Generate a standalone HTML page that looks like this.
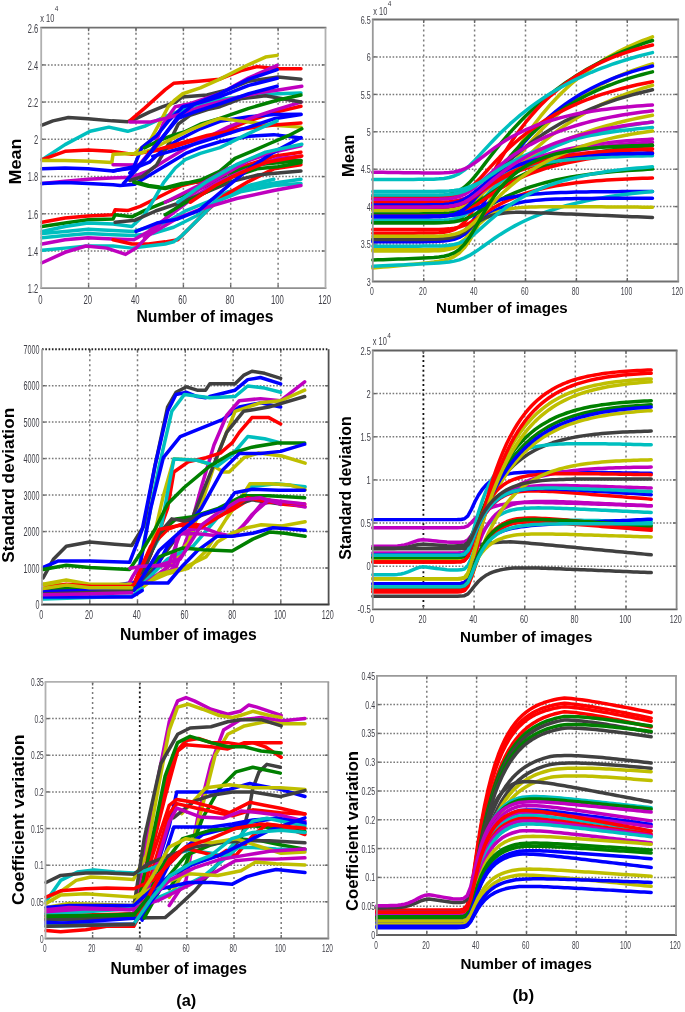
<!DOCTYPE html>
<html><head><meta charset="utf-8"><style>
html,body{margin:0;padding:0;background:#fff;width:685px;height:1012px;overflow:hidden}
text{font-family:"Liberation Sans",sans-serif}
</style></head><body>
<svg width="685" height="1012" viewBox="0 0 685 1012" style="display:block;filter:blur(0.35px)">
<rect width="685" height="1012" fill="#fff"/>
<g stroke="#7a7a7a" stroke-width="1.5" stroke-dasharray="2 3"><line x1="88.6" y1="27.7" x2="88.6" y2="288.2"/><line x1="136.0" y1="27.7" x2="136.0" y2="288.2"/><line x1="183.4" y1="27.7" x2="183.4" y2="288.2"/><line x1="230.7" y1="27.7" x2="230.7" y2="288.2"/><line x1="278.1" y1="27.7" x2="278.1" y2="288.2"/></g>
<g stroke="#7a7a7a" stroke-width="1.5" stroke-dasharray="1.6 1.7"><line x1="41.2" y1="251.0" x2="325.5" y2="251.0"/><line x1="41.2" y1="213.8" x2="325.5" y2="213.8"/><line x1="41.2" y1="176.6" x2="325.5" y2="176.6"/><line x1="41.2" y1="139.3" x2="325.5" y2="139.3"/><line x1="41.2" y1="102.1" x2="325.5" y2="102.1"/><line x1="41.2" y1="64.9" x2="325.5" y2="64.9"/></g>
<g stroke="#666" stroke-width="1.4"><line x1="88.6" y1="284.7" x2="88.6" y2="288.2"/><line x1="88.6" y1="27.7" x2="88.6" y2="31.2"/><line x1="136.0" y1="284.7" x2="136.0" y2="288.2"/><line x1="136.0" y1="27.7" x2="136.0" y2="31.2"/><line x1="183.4" y1="284.7" x2="183.4" y2="288.2"/><line x1="183.4" y1="27.7" x2="183.4" y2="31.2"/><line x1="230.7" y1="284.7" x2="230.7" y2="288.2"/><line x1="230.7" y1="27.7" x2="230.7" y2="31.2"/><line x1="278.1" y1="284.7" x2="278.1" y2="288.2"/><line x1="278.1" y1="27.7" x2="278.1" y2="31.2"/><line x1="41.2" y1="251.0" x2="44.7" y2="251.0"/><line x1="322.0" y1="251.0" x2="325.5" y2="251.0"/><line x1="41.2" y1="213.8" x2="44.7" y2="213.8"/><line x1="322.0" y1="213.8" x2="325.5" y2="213.8"/><line x1="41.2" y1="176.6" x2="44.7" y2="176.6"/><line x1="322.0" y1="176.6" x2="325.5" y2="176.6"/><line x1="41.2" y1="139.3" x2="44.7" y2="139.3"/><line x1="322.0" y1="139.3" x2="325.5" y2="139.3"/><line x1="41.2" y1="102.1" x2="44.7" y2="102.1"/><line x1="322.0" y1="102.1" x2="325.5" y2="102.1"/><line x1="41.2" y1="64.9" x2="44.7" y2="64.9"/><line x1="322.0" y1="64.9" x2="325.5" y2="64.9"/></g>
<g transform="translate(40,27) scale(0.41752,0.41720)" fill="none" stroke-width="8.38" stroke-linejoin="round" stroke-linecap="round">
<polyline stroke="#404040" points="5,235 31,225 68,217 115,220 173,225 210,227 225,222 262,204 294,191 325,180 340,168 400,163 450,150 500,130 570,120 625,125"/>
<polyline stroke="#00bfbf" points="5,318 60,282 120,250 165,240 210,250 250,238 300,215 350,195 420,175 500,165 570,160 625,158"/>
<polyline stroke="#ff0000" points="5,318 60,298 115,295 170,298 220,305 279,296 314,289 349,278 384,268 431,254 500,225 560,205 625,190"/>
<polyline stroke="#ff0000" points="215,225 250,195 300,150 320,135 380,130 430,125 480,105 520,95 570,100 625,100"/>
<polyline stroke="#bfbf00" points="5,320 60,320 120,322 172,325 175,305 227,303 262,275 283,237 307,191 324,174 342,160 384,146 431,125 470,105 500,90 540,72 568,68"/>
<polyline stroke="#bf00bf" points="175,330 237,331 272,289 296,230 324,191 359,184 431,160 500,122 568,92"/>
<polyline stroke="#0000ff" points="5,340 60,338 115,340 175,345 192,342 227,338 262,324 296,293 331,271 384,244 431,226 500,215 560,210 625,209"/>
<polyline stroke="#bf00bf" points="5,375 60,370 115,365 170,362 220,360 260,345 300,320 350,290 400,265 450,240 500,220 560,200 625,180"/>
<polyline stroke="#0000ff" points="5,375 60,373 115,375 175,378 192,380 227,377 244,366 279,345 314,324 349,303 384,289 431,275 500,262 560,258 625,266"/>
<polyline stroke="#008000" points="225,370 260,380 300,385 340,375 400,370 450,360 500,330 560,320 625,320"/>
<polyline stroke="#404040" points="215,368 244,359 279,331 307,282 331,233 359,212 401,198 431,191 480,172 540,165 625,180"/>
<polyline stroke="#0000ff" points="175,345 225,335 244,289 279,261 307,226 342,191 384,181 431,167 500,140 568,123"/>
<polyline stroke="#008000" points="250,290 279,275 314,261 349,250 384,233 431,219 500,195 570,175 625,163"/>
<polyline stroke="#bfbf00" points="230,305 262,296 296,278 331,261 366,244 401,230 431,219 500,228 570,236 625,240"/>
<polyline stroke="#ff0000" points="260,300 330,280 400,260 480,245 560,235 625,230"/>
<polyline stroke="#0000ff" points="270,310 340,290 420,265 500,240 560,220 625,210"/>
<polyline stroke="#ff0000" points="5,468 60,458 115,453 175,450 180,438 210,440 240,430 280,410 340,380 400,365 450,350 500,330 560,310 625,300"/>
<polyline stroke="#008000" points="5,478 60,470 115,462 175,460 180,450 220,455 250,440 300,420 350,400 400,380 450,350 520,330 625,320"/>
<polyline stroke="#00bfbf" points="5,490 60,478 115,470 175,472 220,478 250,450 272,415 296,373 324,338 349,317 384,303 431,289 500,255 568,225"/>
<polyline stroke="#00bfbf" points="5,495 60,490 115,485 175,488 225,490 260,480 300,470 350,440 400,420 450,395 520,380 625,365"/>
<polyline stroke="#00bfbf" points="5,505 60,500 115,495 175,498 225,500 270,495 320,480 380,450 430,410 500,380 560,365"/>
<polyline stroke="#bf00bf" points="5,520 60,510 115,505 175,508 225,510 260,490 300,460 340,430 380,400 430,370 500,340 570,315 625,310"/>
<polyline stroke="#ff0000" points="175,510 220,520 260,520 300,515 330,510 360,480 400,440 440,405 500,370 560,340 625,330"/>
<polyline stroke="#00bfbf" points="5,535 60,530 115,525 175,525 220,530 260,525 300,520 320,515 340,500 380,460 420,420 480,395 560,380 625,375"/>
<polyline stroke="#bf00bf" points="5,565 60,540 110,525 160,530 205,545 230,530 260,500 300,460 340,420 380,390 430,360 500,320 560,300 625,285"/>
<polyline stroke="#404040" points="180,468 228,463 277,441 339,420 400,395 460,370 520,355 570,350 625,345"/>
<polyline stroke="#bf00bf" points="250,505 330,458 383,437 471,411 560,392 625,380"/>
<polyline stroke="#008000" points="300,450 350,420 400,395 460,360 520,340 570,335 625,325"/>
<polyline stroke="#0000ff" points="230,490 280,470 330,460 380,440 440,390 500,340 560,300 625,265"/>
<polyline stroke="#008000" points="225,372 260,382 300,387 340,377 387,366 430,346 467,315 510,297 553,278 596,260 627,244"/>
<polyline stroke="#bf00bf" points="215,228 263,228 300,219 337,209 386,191 435,178 485,166 528,157 571,151 627,142"/>
<polyline stroke="#0000ff" points="200,375 234,338 262,303 296,261 331,219 366,205 431,184 500,160 568,142"/>
<polyline stroke="#0000ff" points="215,350 250,320 290,270 330,215 370,185 430,160 500,125 568,102"/>
<polyline stroke="#bf00bf" points="300,420 380,380 450,340 520,310 571,294"/>
<polyline stroke="#ff0000" points="360,420 420,380 480,350 540,325 627,309"/>
<polyline stroke="#00bfbf" points="330,420 400,370 470,330 540,300 627,281"/>
</g>
<line x1="40.3" y1="27.7" x2="326.4" y2="27.7" stroke="#707070" stroke-width="1.8"/>
<line x1="40.3" y1="288.2" x2="326.4" y2="288.2" stroke="#909090" stroke-width="1.8"/>
<line x1="41.2" y1="27.7" x2="41.2" y2="288.2" stroke="#b0b0b0" stroke-width="1.8"/>
<line x1="325.5" y1="27.7" x2="325.5" y2="288.2" stroke="#b0b0b0" stroke-width="1.8"/>
<g font-family="Liberation Sans" fill="#404048"><text x="27.8" y="293.1" font-size="13.5" textLength="10.4" lengthAdjust="spacingAndGlyphs">1.2</text><text x="27.8" y="255.8" font-size="13.5" textLength="10.4" lengthAdjust="spacingAndGlyphs">1.4</text><text x="27.8" y="218.6" font-size="13.5" textLength="10.4" lengthAdjust="spacingAndGlyphs">1.6</text><text x="27.8" y="181.4" font-size="13.5" textLength="10.4" lengthAdjust="spacingAndGlyphs">1.8</text><text x="34.0" y="144.2" font-size="13.5" textLength="4.2" lengthAdjust="spacingAndGlyphs">2</text><text x="27.8" y="107.0" font-size="13.5" textLength="10.4" lengthAdjust="spacingAndGlyphs">2.2</text><text x="27.8" y="69.8" font-size="13.5" textLength="10.4" lengthAdjust="spacingAndGlyphs">2.4</text><text x="27.8" y="32.6" font-size="13.5" textLength="10.4" lengthAdjust="spacingAndGlyphs">2.6</text><text x="38.3" y="303.7" font-size="13.5" textLength="4.3" lengthAdjust="spacingAndGlyphs">0</text><text x="83.5" y="303.7" font-size="13.5" textLength="8.6" lengthAdjust="spacingAndGlyphs">20</text><text x="130.9" y="303.7" font-size="13.5" textLength="8.6" lengthAdjust="spacingAndGlyphs">40</text><text x="178.2" y="303.7" font-size="13.5" textLength="8.6" lengthAdjust="spacingAndGlyphs">60</text><text x="225.6" y="303.7" font-size="13.5" textLength="8.6" lengthAdjust="spacingAndGlyphs">80</text><text x="270.9" y="303.7" font-size="13.5" textLength="12.9" lengthAdjust="spacingAndGlyphs">100</text><text x="318.2" y="303.7" font-size="13.5" textLength="12.9" lengthAdjust="spacingAndGlyphs">120</text></g>
<text x="40.3" y="21.9" font-family="Liberation Sans" font-size="11" fill="#404048" textLength="14" lengthAdjust="spacingAndGlyphs">x 10</text>
<text x="54.8" y="11.4" font-family="Liberation Sans" font-size="6.5" fill="#404048">4</text>
<g stroke="#7a7a7a" stroke-width="1.5" stroke-dasharray="2 3"><line x1="423.7" y1="19.5" x2="423.7" y2="281.5"/><line x1="474.6" y1="19.5" x2="474.6" y2="281.5"/><line x1="525.5" y1="19.5" x2="525.5" y2="281.5"/><line x1="576.4" y1="19.5" x2="576.4" y2="281.5"/><line x1="627.3" y1="19.5" x2="627.3" y2="281.5"/></g>
<g stroke="#7a7a7a" stroke-width="1.5" stroke-dasharray="1.6 1.7"><line x1="372.8" y1="244.1" x2="678.2" y2="244.1"/><line x1="372.8" y1="206.6" x2="678.2" y2="206.6"/><line x1="372.8" y1="169.2" x2="678.2" y2="169.2"/><line x1="372.8" y1="131.8" x2="678.2" y2="131.8"/><line x1="372.8" y1="94.4" x2="678.2" y2="94.4"/><line x1="372.8" y1="56.9" x2="678.2" y2="56.9"/></g>
<g stroke="#666" stroke-width="1.4"><line x1="423.7" y1="278.0" x2="423.7" y2="281.5"/><line x1="423.7" y1="19.5" x2="423.7" y2="23.0"/><line x1="474.6" y1="278.0" x2="474.6" y2="281.5"/><line x1="474.6" y1="19.5" x2="474.6" y2="23.0"/><line x1="525.5" y1="278.0" x2="525.5" y2="281.5"/><line x1="525.5" y1="19.5" x2="525.5" y2="23.0"/><line x1="576.4" y1="278.0" x2="576.4" y2="281.5"/><line x1="576.4" y1="19.5" x2="576.4" y2="23.0"/><line x1="627.3" y1="278.0" x2="627.3" y2="281.5"/><line x1="627.3" y1="19.5" x2="627.3" y2="23.0"/><line x1="372.8" y1="244.1" x2="376.3" y2="244.1"/><line x1="674.7" y1="244.1" x2="678.2" y2="244.1"/><line x1="372.8" y1="206.6" x2="376.3" y2="206.6"/><line x1="674.7" y1="206.6" x2="678.2" y2="206.6"/><line x1="372.8" y1="169.2" x2="376.3" y2="169.2"/><line x1="674.7" y1="169.2" x2="678.2" y2="169.2"/><line x1="372.8" y1="131.8" x2="376.3" y2="131.8"/><line x1="674.7" y1="131.8" x2="678.2" y2="131.8"/><line x1="372.8" y1="94.4" x2="376.3" y2="94.4"/><line x1="674.7" y1="94.4" x2="678.2" y2="94.4"/><line x1="372.8" y1="56.9" x2="376.3" y2="56.9"/><line x1="674.7" y1="56.9" x2="678.2" y2="56.9"/></g>
<g transform="translate(372,19) scale(0.44818,0.44804)" fill="none" stroke-width="7.81" stroke-linejoin="round" stroke-linecap="round">
<polyline stroke="#bfbf00" points="1.8,556.0 13.1,554.9 24.5,553.8 35.8,552.8 47.2,551.7 58.5,550.6 69.9,549.5 81.2,548.4 92.6,547.3 103.9,546.2 115.3,545.0 126.6,543.8 138.0,542.4 149.3,540.7 160.6,538.5 172.0,535.3 183.3,530.4 194.7,522.6 206.0,510.9 217.4,495.1 228.7,475.7 240.1,453.4 251.4,429.7 262.8,405.8 274.1,382.4 285.4,359.9 296.8,338.4 308.1,318.0 319.5,298.7 330.8,280.4 342.2,263.2 353.5,246.9 364.9,231.5 376.2,217.0 387.6,203.2 398.9,190.2 410.3,178.0 421.6,166.4 432.9,155.5 444.3,145.2 455.6,135.4 467.0,126.2 478.3,117.5 489.7,109.3 501.0,101.6 512.4,94.2 523.7,87.3 535.1,80.8 546.4,74.6 557.8,68.8 569.1,63.3 580.4,58.1 591.8,53.2 603.1,48.5 614.5,44.1 625.8,40.0"/>
<polyline stroke="#008000" points="1.8,395.0 13.1,395.0 24.5,395.0 35.8,395.0 47.2,395.0 58.5,395.0 69.9,395.0 81.2,395.0 92.6,395.0 103.9,394.9 115.3,394.9 126.6,394.7 138.0,394.5 149.3,394.0 160.6,393.1 172.0,391.4 183.3,388.3 194.7,383.3 206.0,375.6 217.4,365.1 228.7,352.3 240.1,338.1 251.4,323.3 262.8,308.5 274.1,293.9 285.4,279.8 296.8,266.2 308.1,253.2 319.5,240.7 330.8,228.7 342.2,217.2 353.5,206.3 364.9,195.8 376.2,185.7 387.6,176.1 398.9,167.0 410.3,158.2 421.6,149.8 432.9,141.7 444.3,134.1 455.6,126.7 467.0,119.7 478.3,113.0 489.7,106.5 501.0,100.4 512.4,94.5 523.7,88.8 535.1,83.5 546.4,78.3 557.8,73.4 569.1,68.7 580.4,64.2 591.8,59.8 603.1,55.7 614.5,51.8 625.8,48.0"/>
<polyline stroke="#ff0000" points="1.8,478.0 13.1,478.0 24.5,478.0 35.8,478.0 47.2,478.0 58.5,478.0 69.9,478.0 81.2,478.0 92.6,478.0 103.9,477.9 115.3,477.8 126.6,477.7 138.0,477.4 149.3,476.8 160.6,475.8 172.0,473.8 183.3,470.1 194.7,463.8 206.0,453.8 217.4,439.5 228.7,421.3 240.1,400.6 251.4,378.8 262.8,357.0 274.1,335.9 285.4,315.7 296.8,296.7 308.1,278.7 319.5,261.9 330.8,246.2 342.2,231.5 353.5,217.7 364.9,204.8 376.2,192.7 387.6,181.4 398.9,170.9 410.3,161.0 421.6,151.7 432.9,143.1 444.3,135.0 455.6,127.4 467.0,120.3 478.3,113.7 489.7,107.5 501.0,101.7 512.4,96.3 523.7,91.2 535.1,86.5 546.4,82.0 557.8,77.9 569.1,74.0 580.4,70.3 591.8,66.9 603.1,63.8 614.5,60.8 625.8,58.0"/>
<polyline stroke="#00bfbf" points="1.8,358.0 13.1,358.0 24.5,358.0 35.8,358.0 47.2,358.0 58.5,358.0 69.9,358.0 81.2,358.0 92.6,358.0 103.9,357.9 115.3,357.8 126.6,357.7 138.0,357.4 149.3,356.8 160.6,355.8 172.0,353.8 183.3,350.5 194.7,345.1 206.0,337.4 217.4,327.6 228.7,316.1 240.1,303.9 251.4,291.5 262.8,279.2 274.1,267.3 285.4,255.8 296.8,244.8 308.1,234.2 319.5,224.2 330.8,214.6 342.2,205.5 353.5,196.8 364.9,188.4 376.2,180.5 387.6,173.0 398.9,165.8 410.3,158.9 421.6,152.3 432.9,146.1 444.3,140.1 455.6,134.4 467.0,129.0 478.3,123.9 489.7,118.9 501.0,114.3 512.4,109.8 523.7,105.5 535.1,101.4 546.4,97.6 557.8,93.9 569.1,90.3 580.4,87.0 591.8,83.8 603.1,80.7 614.5,77.8 625.8,75.0"/>
<polyline stroke="#bfbf00" points="1.8,518.0 13.1,518.0 24.5,518.0 35.8,518.0 47.2,518.0 58.5,518.0 69.9,518.0 81.2,518.0 92.6,518.0 103.9,517.9 115.3,517.9 126.6,517.7 138.0,517.5 149.3,517.0 160.6,516.0 172.0,514.2 183.3,511.0 194.7,505.4 206.0,496.4 217.4,483.6 228.7,467.2 240.1,448.4 251.4,428.4 262.8,408.2 274.1,388.5 285.4,369.6 296.8,351.5 308.1,334.3 319.5,318.0 330.8,302.6 342.2,288.1 353.5,274.4 364.9,261.4 376.2,249.1 387.6,237.6 398.9,226.6 410.3,216.3 421.6,206.5 432.9,197.3 444.3,188.6 455.6,180.4 467.0,172.7 478.3,165.3 489.7,158.4 501.0,151.9 512.4,145.7 523.7,139.9 535.1,134.4 546.4,129.2 557.8,124.2 569.1,119.6 580.4,115.2 591.8,111.1 603.1,107.2 614.5,103.5 625.8,100.0"/>
<polyline stroke="#0000ff" points="1.8,495.0 13.1,495.0 24.5,495.0 35.8,495.0 47.2,495.0 58.5,495.0 69.9,495.0 81.2,495.0 92.6,495.0 103.9,494.9 115.3,494.9 126.6,494.7 138.0,494.5 149.3,494.0 160.6,493.0 172.0,491.2 183.3,488.0 194.7,482.4 206.0,473.5 217.4,460.8 228.7,444.7 240.1,426.2 251.4,406.6 262.8,387.0 274.1,367.9 285.4,349.6 296.8,332.3 308.1,315.9 319.5,300.5 330.8,286.0 342.2,272.3 353.5,259.5 364.9,247.4 376.2,236.1 387.6,225.5 398.9,215.5 410.3,206.1 421.6,197.3 432.9,189.0 444.3,181.2 455.6,173.9 467.0,167.1 478.3,160.6 489.7,154.6 501.0,148.9 512.4,143.5 523.7,138.5 535.1,133.8 546.4,129.4 557.8,125.2 569.1,121.3 580.4,117.6 591.8,114.2 603.1,110.9 614.5,107.9 625.8,105.0"/>
<polyline stroke="#008000" points="1.8,455.0 13.1,455.0 24.5,455.0 35.8,455.0 47.2,455.0 58.5,455.0 69.9,455.0 81.2,455.0 92.6,455.0 103.9,454.9 115.3,454.9 126.6,454.8 138.0,454.6 149.3,454.2 160.6,453.4 172.0,452.0 183.3,449.3 194.7,444.8 206.0,437.6 217.4,427.2 228.7,414.0 240.1,398.9 251.4,382.8 262.8,366.5 274.1,350.6 285.4,335.3 296.8,320.7 308.1,306.9 319.5,293.8 330.8,281.4 342.2,269.6 353.5,258.6 364.9,248.1 376.2,238.2 387.6,228.9 398.9,220.1 410.3,211.8 421.6,203.9 432.9,196.5 444.3,189.5 455.6,182.8 467.0,176.6 478.3,170.7 489.7,165.1 501.0,159.8 512.4,154.8 523.7,150.1 535.1,145.7 546.4,141.5 557.8,137.5 569.1,133.8 580.4,130.3 591.8,126.9 603.1,123.8 614.5,120.8 625.8,118.0"/>
<polyline stroke="#ff0000" points="1.8,400.0 13.1,400.0 24.5,400.0 35.8,400.0 47.2,400.0 58.5,400.0 69.9,400.0 81.2,400.0 92.6,400.0 103.9,400.0 115.3,399.9 126.6,399.8 138.0,399.7 149.3,399.4 160.6,398.8 172.0,397.7 183.3,395.6 194.7,392.1 206.0,386.6 217.4,378.6 228.7,368.4 240.1,356.7 251.4,344.3 262.8,331.7 274.1,319.5 285.4,307.7 296.8,296.4 308.1,285.7 319.5,275.6 330.8,266.0 342.2,257.0 353.5,248.5 364.9,240.4 376.2,232.8 387.6,225.6 398.9,218.8 410.3,212.3 421.6,206.3 432.9,200.5 444.3,195.1 455.6,190.0 467.0,185.2 478.3,180.6 489.7,176.3 501.0,172.3 512.4,168.4 523.7,164.8 535.1,161.4 546.4,158.1 557.8,155.1 569.1,152.2 580.4,149.5 591.8,146.9 603.1,144.5 614.5,142.2 625.8,140.0"/>
<polyline stroke="#bfbf00" points="1.8,490.0 13.1,490.0 24.5,490.0 35.8,490.0 47.2,490.0 58.5,490.0 69.9,490.0 81.2,490.0 92.6,490.0 103.9,489.9 115.3,489.9 126.6,489.8 138.0,489.6 149.3,489.2 160.6,488.5 172.0,487.2 183.3,484.7 194.7,480.5 206.0,473.8 217.4,464.1 228.7,451.8 240.1,437.5 251.4,422.2 262.8,406.7 274.1,391.4 285.4,376.6 296.8,362.4 308.1,348.8 319.5,335.8 330.8,323.4 342.2,311.7 353.5,300.5 364.9,289.9 376.2,279.7 387.6,270.1 398.9,260.9 410.3,252.2 421.6,243.9 432.9,236.1 444.3,228.6 455.6,221.4 467.0,214.6 478.3,208.2 489.7,202.0 501.0,196.2 512.4,190.6 523.7,185.4 535.1,180.3 546.4,175.5 557.8,171.0 569.1,166.7 580.4,162.6 591.8,158.6 603.1,154.9 614.5,151.4 625.8,148.0"/>
<polyline stroke="#404040" points="1.8,425.0 13.1,425.0 24.5,425.0 35.8,425.0 47.2,425.0 58.5,425.0 69.9,425.0 81.2,425.0 92.6,425.0 103.9,425.0 115.3,424.9 126.6,424.8 138.0,424.7 149.3,424.4 160.6,423.8 172.0,422.8 183.3,420.9 194.7,417.6 206.0,412.4 217.4,404.8 228.7,395.1 240.1,384.0 251.4,372.0 262.8,359.9 274.1,348.0 285.4,336.5 296.8,325.3 308.1,314.7 319.5,304.6 330.8,295.0 342.2,285.8 353.5,277.1 364.9,268.8 376.2,260.9 387.6,253.3 398.9,246.2 410.3,239.4 421.6,232.9 432.9,226.7 444.3,220.9 455.6,215.3 467.0,210.0 478.3,205.0 489.7,200.2 501.0,195.6 512.4,191.3 523.7,187.2 535.1,183.2 546.4,179.5 557.8,176.0 569.1,172.6 580.4,169.4 591.8,166.3 603.1,163.4 614.5,160.6 625.8,158.0"/>
<polyline stroke="#bf00bf" points="1.8,342.0 13.1,342.2 24.5,342.3 35.8,342.5 47.2,342.6 58.5,342.8 69.9,343.0 81.2,343.1 92.6,343.3 103.9,343.4 115.3,343.6 126.6,343.7 138.0,343.7 149.3,343.6 160.6,343.3 172.0,342.6 183.3,341.3 194.7,338.8 206.0,334.8 217.4,328.9 228.7,321.4 240.1,313.0 251.4,304.2 262.8,295.5 274.1,287.1 285.4,279.3 296.8,272.0 308.1,265.2 319.5,258.9 330.8,253.1 342.2,247.7 353.5,242.8 364.9,238.2 376.2,234.0 387.6,230.1 398.9,226.5 410.3,223.2 421.6,220.1 432.9,217.3 444.3,214.6 455.6,212.2 467.0,210.0 478.3,208.0 489.7,206.1 501.0,204.3 512.4,202.7 523.7,201.2 535.1,199.8 546.4,198.5 557.8,197.4 569.1,196.3 580.4,195.3 591.8,194.4 603.1,193.5 614.5,192.7 625.8,192.0"/>
<polyline stroke="#bf00bf" points="1.8,403.0 13.1,403.0 24.5,403.0 35.8,403.0 47.2,403.0 58.5,403.0 69.9,403.0 81.2,403.0 92.6,403.0 103.9,403.0 115.3,402.9 126.6,402.9 138.0,402.7 149.3,402.5 160.6,401.9 172.0,401.0 183.3,399.3 194.7,396.3 206.0,391.6 217.4,384.8 228.7,376.3 240.1,366.5 251.4,356.2 262.8,346.0 274.1,336.0 285.4,326.5 296.8,317.5 308.1,309.1 319.5,301.1 330.8,293.7 342.2,286.8 353.5,280.3 364.9,274.2 376.2,268.5 387.6,263.2 398.9,258.2 410.3,253.5 421.6,249.2 432.9,245.1 444.3,241.3 455.6,237.7 467.0,234.4 478.3,231.3 489.7,228.3 501.0,225.6 512.4,223.0 523.7,220.7 535.1,218.4 546.4,216.3 557.8,214.4 569.1,212.5 580.4,210.8 591.8,209.2 603.1,207.7 614.5,206.3 625.8,205.0"/>
<polyline stroke="#bfbf00" points="1.8,428.0 13.1,428.0 24.5,428.0 35.8,428.0 47.2,428.0 58.5,428.0 69.9,428.0 81.2,428.0 92.6,428.0 103.9,428.0 115.3,427.9 126.6,427.9 138.0,427.8 149.3,427.5 160.6,427.1 172.0,426.2 183.3,424.7 194.7,422.1 206.0,417.9 217.4,411.9 228.7,404.2 240.1,395.3 251.4,385.8 262.8,376.1 274.1,366.6 285.4,357.4 296.8,348.5 308.1,340.0 319.5,332.0 330.8,324.3 342.2,316.9 353.5,310.0 364.9,303.4 376.2,297.0 387.6,291.1 398.9,285.3 410.3,279.9 421.6,274.8 432.9,269.8 444.3,265.2 455.6,260.7 467.0,256.5 478.3,252.5 489.7,248.7 501.0,245.0 512.4,241.6 523.7,238.3 535.1,235.1 546.4,232.2 557.8,229.3 569.1,226.6 580.4,224.1 591.8,221.6 603.1,219.3 614.5,217.1 625.8,215.0"/>
<polyline stroke="#00bfbf" points="1.8,450.0 13.1,450.0 24.5,450.0 35.8,450.0 47.2,450.0 58.5,450.0 69.9,450.0 81.2,450.0 92.6,450.0 103.9,450.0 115.3,449.9 126.6,449.8 138.0,449.7 149.3,449.4 160.6,448.8 172.0,447.8 183.3,445.9 194.7,442.6 206.0,437.3 217.4,429.8 228.7,420.3 240.1,409.5 251.4,398.1 262.8,386.6 274.1,375.6 285.4,365.0 296.8,355.0 308.1,345.6 319.5,336.8 330.8,328.6 342.2,320.9 353.5,313.6 364.9,306.9 376.2,300.6 387.6,294.6 398.9,289.1 410.3,283.9 421.6,279.1 432.9,274.6 444.3,270.3 455.6,266.4 467.0,262.6 478.3,259.2 489.7,255.9 501.0,252.9 512.4,250.1 523.7,247.4 535.1,244.9 546.4,242.6 557.8,240.4 569.1,238.4 580.4,236.5 591.8,234.7 603.1,233.0 614.5,231.5 625.8,230.0"/>
<polyline stroke="#00bfbf" points="1.8,393.0 13.1,393.0 24.5,393.0 35.8,393.0 47.2,393.0 58.5,393.0 69.9,393.0 81.2,393.0 92.6,393.0 103.9,393.0 115.3,392.9 126.6,392.9 138.0,392.8 149.3,392.6 160.6,392.2 172.0,391.5 183.3,390.2 194.7,387.9 206.0,384.3 217.4,379.2 228.7,372.6 240.1,365.2 251.4,357.3 262.8,349.5 274.1,341.9 285.4,334.7 296.8,327.8 308.1,321.4 319.5,315.3 330.8,309.7 342.2,304.4 353.5,299.4 364.9,294.8 376.2,290.4 387.6,286.4 398.9,282.6 410.3,279.0 421.6,275.7 432.9,272.6 444.3,269.7 455.6,267.0 467.0,264.4 478.3,262.0 489.7,259.8 501.0,257.7 512.4,255.8 523.7,253.9 535.1,252.2 546.4,250.6 557.8,249.1 569.1,247.7 580.4,246.4 591.8,245.2 603.1,244.1 614.5,243.0 625.8,242.0"/>
<polyline stroke="#bf00bf" points="1.8,410.0 13.1,410.0 24.5,410.0 35.8,410.0 47.2,410.0 58.5,410.0 69.9,410.0 81.2,410.0 92.6,410.0 103.9,410.0 115.3,409.9 126.6,409.9 138.0,409.8 149.3,409.5 160.6,409.1 172.0,408.3 183.3,406.9 194.7,404.5 206.0,400.6 217.4,395.1 228.7,388.1 240.1,380.3 251.4,372.1 262.8,364.0 274.1,356.3 285.4,349.0 296.8,342.2 308.1,335.9 319.5,330.1 330.8,324.7 342.2,319.7 353.5,315.1 364.9,310.9 376.2,307.0 387.6,303.3 398.9,300.0 410.3,296.9 421.6,294.1 432.9,291.4 444.3,289.0 455.6,286.8 467.0,284.7 478.3,282.8 489.7,281.0 501.0,279.4 512.4,277.9 523.7,276.5 535.1,275.3 546.4,274.1 557.8,273.0 569.1,272.0 580.4,271.1 591.8,270.2 603.1,269.4 614.5,268.7 625.8,268.0"/>
<polyline stroke="#bf00bf" points="1.8,420.0 13.1,420.0 24.5,420.0 35.8,420.0 47.2,420.0 58.5,420.0 69.9,420.0 81.2,420.0 92.6,420.0 103.9,420.0 115.3,419.9 126.6,419.9 138.0,419.8 149.3,419.5 160.6,419.1 172.0,418.3 183.3,416.9 194.7,414.3 206.0,410.4 217.4,404.7 228.7,397.7 240.1,389.6 251.4,381.3 262.8,373.0 274.1,365.1 285.4,357.7 296.8,350.8 308.1,344.3 319.5,338.4 330.8,332.9 342.2,327.8 353.5,323.1 364.9,318.8 376.2,314.8 387.6,311.1 398.9,307.7 410.3,304.5 421.6,301.6 432.9,298.9 444.3,296.5 455.6,294.2 467.0,292.1 478.3,290.1 489.7,288.3 501.0,286.7 512.4,285.1 523.7,283.7 535.1,282.4 546.4,281.2 557.8,280.1 569.1,279.1 580.4,278.1 591.8,277.2 603.1,276.4 614.5,275.7 625.8,275.0"/>
<polyline stroke="#008000" points="1.8,435.0 13.1,435.0 24.5,435.0 35.8,435.0 47.2,435.0 58.5,435.0 69.9,435.0 81.2,435.0 92.6,435.0 103.9,435.0 115.3,434.9 126.6,434.9 138.0,434.8 149.3,434.6 160.6,434.2 172.0,433.5 183.3,432.1 194.7,429.8 206.0,426.2 217.4,421.0 228.7,414.4 240.1,406.8 251.4,398.9 262.8,390.9 274.1,383.2 285.4,375.9 296.8,368.9 308.1,362.4 319.5,356.3 330.8,350.6 342.2,345.2 353.5,340.2 364.9,335.5 376.2,331.1 387.6,327.0 398.9,323.1 410.3,319.5 421.6,316.1 432.9,313.0 444.3,310.0 455.6,307.3 467.0,304.7 478.3,302.3 489.7,300.0 501.0,297.9 512.4,295.9 523.7,294.1 535.1,292.4 546.4,290.8 557.8,289.2 569.1,287.8 580.4,286.5 591.8,285.3 603.1,284.1 614.5,283.0 625.8,282.0"/>
<polyline stroke="#ff0000" points="1.8,410.0 13.1,410.0 24.5,410.0 35.8,410.0 47.2,410.0 58.5,410.0 69.9,410.0 81.2,410.0 92.6,410.0 103.9,410.0 115.3,409.9 126.6,409.9 138.0,409.8 149.3,409.6 160.6,409.3 172.0,408.6 183.3,407.4 194.7,405.3 206.0,402.0 217.4,397.4 228.7,391.5 240.1,384.9 251.4,378.0 262.8,371.1 274.1,364.6 285.4,358.5 296.8,352.7 308.1,347.4 319.5,342.5 330.8,337.9 342.2,333.7 353.5,329.8 364.9,326.2 376.2,322.9 387.6,319.9 398.9,317.0 410.3,314.4 421.6,312.0 432.9,309.8 444.3,307.8 455.6,305.9 467.0,304.1 478.3,302.5 489.7,301.0 501.0,299.7 512.4,298.4 523.7,297.2 535.1,296.1 546.4,295.1 557.8,294.2 569.1,293.4 580.4,292.6 591.8,291.9 603.1,291.2 614.5,290.6 625.8,290.0"/>
<polyline stroke="#ff0000" points="1.8,440.0 13.1,440.0 24.5,440.0 35.8,440.0 47.2,440.0 58.5,440.0 69.9,440.0 81.2,440.0 92.6,440.0 103.9,440.0 115.3,439.9 126.6,439.9 138.0,439.8 149.3,439.5 160.6,439.1 172.0,438.3 183.3,436.9 194.7,434.5 206.0,430.6 217.4,425.1 228.7,418.1 240.1,410.3 251.4,402.1 262.8,394.0 274.1,386.3 285.4,379.0 296.8,372.2 308.1,365.9 319.5,360.1 330.8,354.7 342.2,349.7 353.5,345.1 364.9,340.9 376.2,337.0 387.6,333.3 398.9,330.0 410.3,326.9 421.6,324.1 432.9,321.4 444.3,319.0 455.6,316.8 467.0,314.7 478.3,312.8 489.7,311.0 501.0,309.4 512.4,307.9 523.7,306.5 535.1,305.3 546.4,304.1 557.8,303.0 569.1,302.0 580.4,301.1 591.8,300.2 603.1,299.4 614.5,298.7 625.8,298.0"/>
<polyline stroke="#0000ff" points="1.8,442.0 13.1,442.0 24.5,442.0 35.8,442.0 47.2,442.0 58.5,442.0 69.9,442.0 81.2,442.0 92.6,442.0 103.9,441.9 115.3,441.9 126.6,441.8 138.0,441.5 149.3,441.1 160.6,440.3 172.0,438.7 183.3,436.0 194.7,431.3 206.0,424.0 217.4,414.1 228.7,402.2 240.1,389.5 251.4,377.3 262.8,366.1 274.1,356.2 285.4,347.7 296.8,340.4 308.1,334.2 319.5,328.9 330.8,324.4 342.2,320.6 353.5,317.4 364.9,314.7 376.2,312.4 387.6,310.4 398.9,308.8 410.3,307.4 421.6,306.2 432.9,305.2 444.3,304.3 455.6,303.6 467.0,303.0 478.3,302.5 489.7,302.1 501.0,301.7 512.4,301.4 523.7,301.1 535.1,300.9 546.4,300.7 557.8,300.6 569.1,300.4 580.4,300.3 591.8,300.2 603.1,300.1 614.5,300.1 625.8,300.0"/>
<polyline stroke="#00bfbf" points="1.8,385.0 13.1,385.0 24.5,385.0 35.8,385.0 47.2,385.0 58.5,385.0 69.9,385.0 81.2,385.0 92.6,385.0 103.9,385.0 115.3,385.0 126.6,384.9 138.0,384.8 149.3,384.7 160.6,384.4 172.0,383.9 183.3,382.9 194.7,381.2 206.0,378.6 217.4,374.9 228.7,370.3 240.1,365.2 251.4,359.9 262.8,354.9 274.1,350.1 285.4,345.7 296.8,341.6 308.1,338.0 319.5,334.6 330.8,331.6 342.2,328.9 353.5,326.4 364.9,324.2 376.2,322.1 387.6,320.3 398.9,318.6 410.3,317.1 421.6,315.8 432.9,314.6 444.3,313.4 455.6,312.4 467.0,311.5 478.3,310.7 489.7,310.0 501.0,309.3 512.4,308.7 523.7,308.1 535.1,307.6 546.4,307.2 557.8,306.8 569.1,306.4 580.4,306.0 591.8,305.7 603.1,305.5 614.5,305.2 625.8,305.0"/>
<polyline stroke="#008000" points="1.8,455.0 13.1,455.0 24.5,455.0 35.8,455.0 47.2,455.0 58.5,455.0 69.9,455.0 81.2,455.0 92.6,455.0 103.9,455.0 115.3,454.9 126.6,454.9 138.0,454.8 149.3,454.6 160.6,454.3 172.0,453.6 183.3,452.4 194.7,450.3 206.0,447.0 217.4,442.4 228.7,436.5 240.1,429.9 251.4,423.0 262.8,416.1 274.1,409.6 285.4,403.5 296.8,397.7 308.1,392.4 319.5,387.5 330.8,382.9 342.2,378.7 353.5,374.8 364.9,371.2 376.2,367.9 387.6,364.9 398.9,362.0 410.3,359.4 421.6,357.0 432.9,354.8 444.3,352.8 455.6,350.9 467.0,349.1 478.3,347.5 489.7,346.0 501.0,344.7 512.4,343.4 523.7,342.2 535.1,341.1 546.4,340.1 557.8,339.2 569.1,338.4 580.4,337.6 591.8,336.9 603.1,336.2 614.5,335.6 625.8,335.0"/>
<polyline stroke="#ff0000" points="1.8,470.0 13.1,470.0 24.5,470.0 35.8,470.0 47.2,470.0 58.5,470.0 69.9,470.0 81.2,470.0 92.6,470.0 103.9,470.0 115.3,469.9 126.6,469.9 138.0,469.8 149.3,469.6 160.6,469.1 172.0,468.4 183.3,467.0 194.7,464.6 206.0,460.8 217.4,455.5 228.7,448.9 240.1,441.5 251.4,434.0 262.8,426.7 274.1,419.8 285.4,413.4 296.8,407.6 308.1,402.4 319.5,397.6 330.8,393.2 342.2,389.3 353.5,385.8 364.9,382.5 376.2,379.6 387.6,377.0 398.9,374.6 410.3,372.4 421.6,370.5 432.9,368.7 444.3,367.1 455.6,365.7 467.0,364.4 478.3,363.2 489.7,362.1 501.0,361.2 512.4,360.3 523.7,359.5 535.1,358.8 546.4,358.1 557.8,357.5 569.1,357.0 580.4,356.5 591.8,356.1 603.1,355.7 614.5,355.3 625.8,355.0"/>
<polyline stroke="#0000ff" points="1.8,440.0 13.1,440.0 24.5,440.0 35.8,440.0 47.2,440.0 58.5,440.0 69.9,440.0 81.2,440.0 92.6,440.0 103.9,440.0 115.3,440.0 126.6,439.9 138.0,439.8 149.3,439.7 160.6,439.3 172.0,438.7 183.3,437.7 194.7,435.8 206.0,433.0 217.4,429.2 228.7,424.6 240.1,419.7 251.4,414.9 262.8,410.6 274.1,406.8 285.4,403.5 296.8,400.6 308.1,398.2 319.5,396.2 330.8,394.5 342.2,393.0 353.5,391.7 364.9,390.7 376.2,389.8 387.6,389.0 398.9,388.4 410.3,387.9 421.6,387.4 432.9,387.0 444.3,386.7 455.6,386.4 467.0,386.2 478.3,386.0 489.7,385.8 501.0,385.7 512.4,385.5 523.7,385.4 535.1,385.4 546.4,385.3 557.8,385.2 569.1,385.2 580.4,385.1 591.8,385.1 603.1,385.0 614.5,385.0 625.8,385.0"/>
<polyline stroke="#00bfbf" points="1.8,552.0 13.1,551.5 24.5,550.9 35.8,550.4 47.2,549.8 58.5,549.3 69.9,548.8 81.2,548.2 92.6,547.7 103.9,547.1 115.3,546.5 126.6,545.9 138.0,545.3 149.3,544.5 160.6,543.6 172.0,542.3 183.3,540.4 194.7,537.5 206.0,533.2 217.4,527.6 228.7,520.8 240.1,513.1 251.4,504.9 262.8,496.8 274.1,488.9 285.4,481.3 296.8,474.2 308.1,467.5 319.5,461.2 330.8,455.4 342.2,449.8 353.5,444.7 364.9,439.9 376.2,435.4 387.6,431.1 398.9,427.2 410.3,423.5 421.6,420.0 432.9,416.8 444.3,413.8 455.6,410.9 467.0,408.3 478.3,405.8 489.7,403.5 501.0,401.3 512.4,399.3 523.7,397.4 535.1,395.6 546.4,394.0 557.8,392.4 569.1,391.0 580.4,389.6 591.8,388.3 603.1,387.2 614.5,386.0 625.8,385.0"/>
<polyline stroke="#0000ff" points="1.8,497.0 13.1,497.0 24.5,497.0 35.8,497.0 47.2,497.0 58.5,497.0 69.9,497.0 81.2,497.0 92.6,497.0 103.9,496.9 115.3,496.9 126.6,496.8 138.0,496.6 149.3,496.2 160.6,495.4 172.0,494.1 183.3,491.6 194.7,487.4 206.0,481.0 217.4,472.5 228.7,462.6 240.1,452.5 251.4,443.2 262.8,435.1 274.1,428.3 285.4,422.8 296.8,418.3 308.1,414.6 319.5,411.7 330.8,409.4 342.2,407.5 353.5,406.0 364.9,404.8 376.2,403.8 387.6,403.1 398.9,402.5 410.3,402.0 421.6,401.6 432.9,401.2 444.3,401.0 455.6,400.8 467.0,400.6 478.3,400.5 489.7,400.4 501.0,400.3 512.4,400.2 523.7,400.2 535.1,400.1 546.4,400.1 557.8,400.1 569.1,400.1 580.4,400.0 591.8,400.0 603.1,400.0 614.5,400.0 625.8,400.0"/>
<polyline stroke="#bfbf00" points="1.8,515.0 13.1,515.0 24.5,515.0 35.8,515.0 47.2,515.0 58.5,515.0 69.9,515.0 81.2,515.0 92.6,515.0 103.9,514.9 115.3,514.8 126.6,514.7 138.0,514.4 149.3,513.8 160.6,512.7 172.0,510.6 183.3,507.0 194.7,500.9 206.0,492.0 217.4,480.7 228.7,468.3 240.1,456.7 251.4,446.8 262.8,439.1 274.1,433.3 285.4,429.0 296.8,425.9 308.1,423.7 319.5,422.1 330.8,421.0 342.2,420.3 353.5,419.8 364.9,419.4 376.2,419.2 387.6,419.0 398.9,418.9 410.3,418.9 421.6,418.9 432.9,418.9 444.3,418.9 455.6,419.0 467.0,419.0 478.3,419.1 489.7,419.2 501.0,419.2 512.4,419.3 523.7,419.4 535.1,419.4 546.4,419.5 557.8,419.6 569.1,419.6 580.4,419.7 591.8,419.8 603.1,419.9 614.5,419.9 625.8,420.0"/>
<polyline stroke="#404040" points="1.8,492.0 13.1,492.0 24.5,492.0 35.8,492.0 47.2,492.0 58.5,492.0 69.9,492.0 81.2,492.0 92.6,492.0 103.9,491.9 115.3,491.9 126.6,491.8 138.0,491.5 149.3,491.1 160.6,490.2 172.0,488.7 183.3,485.9 194.7,481.4 206.0,474.8 217.4,466.7 228.7,458.2 240.1,450.6 251.4,444.5 262.8,440.0 274.1,436.8 285.4,434.6 296.8,433.1 308.1,432.1 319.5,431.6 330.8,431.6 342.2,431.8 353.5,432.1 364.9,432.4 376.2,432.8 387.6,433.2 398.9,433.6 410.3,434.1 421.6,434.5 432.9,435.0 444.3,435.5 455.6,435.9 467.0,436.4 478.3,436.9 489.7,437.3 501.0,437.8 512.4,438.3 523.7,438.7 535.1,439.2 546.4,439.7 557.8,440.2 569.1,440.6 580.4,441.1 591.8,441.6 603.1,442.1 614.5,442.5 625.8,443.0"/>
<polyline stroke="#0000ff" points="1.8,415.0 13.1,415.0 24.5,415.0 35.8,415.0 47.2,415.0 58.5,415.0 69.9,415.0 81.2,415.0 92.6,415.0 103.9,415.0 115.3,414.9 126.6,414.8 138.0,414.7 149.3,414.4 160.6,413.8 172.0,412.7 183.3,410.8 194.7,407.5 206.0,402.4 217.4,395.3 228.7,386.6 240.1,377.3 251.4,368.1 262.8,359.5 274.1,351.8 285.4,344.9 296.8,338.9 308.1,333.7 319.5,329.1 330.8,325.2 342.2,321.7 353.5,318.8 364.9,316.2 376.2,313.9 387.6,312.0 398.9,310.3 410.3,308.9 421.6,307.6 432.9,306.5 444.3,305.6 455.6,304.7 467.0,304.0 478.3,303.4 489.7,302.9 501.0,302.4 512.4,302.0 523.7,301.6 535.1,301.3 546.4,301.1 557.8,300.9 569.1,300.7 580.4,300.5 591.8,300.3 603.1,300.2 614.5,300.1 625.8,300.0"/>
<polyline stroke="#ff0000" points="1.8,420.0 13.1,420.0 24.5,420.0 35.8,420.0 47.2,420.0 58.5,420.0 69.9,420.0 81.2,420.0 92.6,420.0 103.9,420.0 115.3,419.9 126.6,419.9 138.0,419.7 149.3,419.5 160.6,419.0 172.0,418.2 183.3,416.6 194.7,413.9 206.0,409.6 217.4,403.6 228.7,396.1 240.1,387.8 251.4,379.3 262.8,371.0 274.1,363.2 285.4,356.1 296.8,349.5 308.1,343.5 319.5,338.1 330.8,333.2 342.2,328.8 353.5,324.8 364.9,321.1 376.2,317.8 387.6,314.9 398.9,312.2 410.3,309.7 421.6,307.5 432.9,305.5 444.3,303.7 455.6,302.1 467.0,300.6 478.3,299.3 489.7,298.0 501.0,297.0 512.4,296.0 523.7,295.1 535.1,294.3 546.4,293.5 557.8,292.9 569.1,292.3 580.4,291.7 591.8,291.2 603.1,290.8 614.5,290.4 625.8,290.0"/>
<polyline stroke="#bfbf00" points="1.8,485.0 13.1,485.0 24.5,485.0 35.8,485.0 47.2,485.0 58.5,485.0 69.9,485.0 81.2,485.0 92.6,485.0 103.9,485.0 115.3,484.9 126.6,484.8 138.0,484.7 149.3,484.4 160.6,483.8 172.0,482.6 183.3,480.6 194.7,477.1 206.0,471.5 217.4,463.4 228.7,453.3 240.1,441.7 251.4,429.5 262.8,417.3 274.1,405.5 285.4,394.2 296.8,383.5 308.1,373.5 319.5,364.1 330.8,355.3 342.2,347.1 353.5,339.3 364.9,332.1 376.2,325.4 387.6,319.1 398.9,313.1 410.3,307.6 421.6,302.4 432.9,297.6 444.3,293.1 455.6,288.8 467.0,284.9 478.3,281.2 489.7,277.7 501.0,274.5 512.4,271.4 523.7,268.6 535.1,265.9 546.4,263.4 557.8,261.1 569.1,258.9 580.4,256.9 591.8,255.0 603.1,253.2 614.5,251.6 625.8,250.0"/>
<polyline stroke="#00bfbf" points="1.8,507.0 13.1,507.0 24.5,507.0 35.8,507.0 47.2,507.0 58.5,507.0 69.9,507.0 81.2,507.0 92.6,507.0 103.9,507.0 115.3,506.9 126.6,506.8 138.0,506.7 149.3,506.4 160.6,505.9 172.0,504.9 183.3,503.2 194.7,500.1 206.0,495.3 217.4,488.4 228.7,479.7 240.1,469.9 251.4,459.7 262.8,449.7 274.1,440.0 285.4,431.0 296.8,422.5 308.1,414.7 319.5,407.4 330.8,400.7 342.2,394.5 353.5,388.7 364.9,383.4 376.2,378.6 387.6,374.1 398.9,369.9 410.3,366.0 421.6,362.5 432.9,359.2 444.3,356.2 455.6,353.4 467.0,350.8 478.3,348.5 489.7,346.3 501.0,344.2 512.4,342.4 523.7,340.6 535.1,339.0 546.4,337.6 557.8,336.2 569.1,335.0 580.4,333.8 591.8,332.7 603.1,331.8 614.5,330.8 625.8,330.0"/>
<polyline stroke="#bf00bf" points="1.8,420.0 13.1,420.0 24.5,420.0 35.8,420.0 47.2,420.0 58.5,420.0 69.9,420.0 81.2,420.0 92.6,420.0 103.9,420.0 115.3,419.9 126.6,419.9 138.0,419.7 149.3,419.5 160.6,419.0 172.0,418.1 183.3,416.4 194.7,413.6 206.0,409.0 217.4,402.6 228.7,394.4 240.1,385.0 251.4,375.1 262.8,365.3 274.1,355.7 285.4,346.6 296.8,338.0 308.1,329.9 319.5,322.3 330.8,315.1 342.2,308.5 353.5,302.2 364.9,296.4 376.2,290.9 387.6,285.8 398.9,281.1 410.3,276.6 421.6,272.4 432.9,268.5 444.3,264.8 455.6,261.4 467.0,258.2 478.3,255.2 489.7,252.4 501.0,249.8 512.4,247.3 523.7,245.0 535.1,242.9 546.4,240.9 557.8,239.0 569.1,237.2 580.4,235.6 591.8,234.0 603.1,232.6 614.5,231.3 625.8,230.0"/>
<polyline stroke="#008000" points="1.8,538.0 13.1,537.6 24.5,537.1 35.8,536.7 47.2,536.3 58.5,535.8 69.9,535.4 81.2,534.9 92.6,534.5 103.9,534.0 115.3,533.5 126.6,532.9 138.0,532.1 149.3,531.0 160.6,529.4 172.0,526.6 183.3,522.0 194.7,514.5 206.0,503.0 217.4,487.4 228.7,468.8 240.1,448.8 251.4,428.9 262.8,410.4 274.1,393.7 285.4,378.9 296.8,365.9 308.1,354.6 319.5,344.8 330.8,336.3 342.2,328.9 353.5,322.5 364.9,316.9 376.2,312.1 387.6,307.9 398.9,304.3 410.3,301.1 421.6,298.4 432.9,296.0 444.3,294.0 455.6,292.2 467.0,290.7 478.3,289.3 489.7,288.2 501.0,287.2 512.4,286.3 523.7,285.5 535.1,284.9 546.4,284.3 557.8,283.8 569.1,283.4 580.4,283.0 591.8,282.7 603.1,282.4 614.5,282.2 625.8,282.0"/>
</g>
<line x1="371.9" y1="19.5" x2="679.1" y2="19.5" stroke="#707070" stroke-width="1.8"/>
<line x1="371.9" y1="281.5" x2="679.1" y2="281.5" stroke="#707070" stroke-width="1.8"/>
<line x1="372.8" y1="19.5" x2="372.8" y2="281.5" stroke="#999" stroke-width="1.8"/>
<line x1="678.2" y1="19.5" x2="678.2" y2="281.5" stroke="#999" stroke-width="1.8"/>
<g font-family="Liberation Sans" fill="#404048"><text x="366.8" y="285.6" font-size="11.5" textLength="4.0" lengthAdjust="spacingAndGlyphs">3</text><text x="360.8" y="248.2" font-size="11.5" textLength="10.0" lengthAdjust="spacingAndGlyphs">3.5</text><text x="366.8" y="210.8" font-size="11.5" textLength="4.0" lengthAdjust="spacingAndGlyphs">4</text><text x="360.8" y="173.4" font-size="11.5" textLength="10.0" lengthAdjust="spacingAndGlyphs">4.5</text><text x="366.8" y="135.9" font-size="11.5" textLength="4.0" lengthAdjust="spacingAndGlyphs">5</text><text x="360.8" y="98.5" font-size="11.5" textLength="10.0" lengthAdjust="spacingAndGlyphs">5.5</text><text x="366.8" y="61.1" font-size="11.5" textLength="4.0" lengthAdjust="spacingAndGlyphs">6</text><text x="360.8" y="23.6" font-size="11.5" textLength="10.0" lengthAdjust="spacingAndGlyphs">6.5</text><text x="370.1" y="295.0" font-size="10.5" textLength="3.8" lengthAdjust="spacingAndGlyphs">0</text><text x="419.1" y="295.0" font-size="10.5" textLength="7.6" lengthAdjust="spacingAndGlyphs">20</text><text x="470.0" y="295.0" font-size="10.5" textLength="7.6" lengthAdjust="spacingAndGlyphs">40</text><text x="520.9" y="295.0" font-size="10.5" textLength="7.6" lengthAdjust="spacingAndGlyphs">60</text><text x="571.8" y="295.0" font-size="10.5" textLength="7.6" lengthAdjust="spacingAndGlyphs">80</text><text x="620.8" y="295.0" font-size="10.5" textLength="11.4" lengthAdjust="spacingAndGlyphs">100</text><text x="671.7" y="295.0" font-size="10.5" textLength="11.4" lengthAdjust="spacingAndGlyphs">120</text></g>
<text x="373.3" y="14.6" font-family="Liberation Sans" font-size="11" fill="#404048" textLength="14" lengthAdjust="spacingAndGlyphs">x 10</text>
<text x="387.8" y="6" font-family="Liberation Sans" font-size="6.5" fill="#404048">4</text>
<g stroke="#7a7a7a" stroke-width="1.5" stroke-dasharray="2 3"><line x1="89.8" y1="349.2" x2="89.8" y2="604.5"/><line x1="137.5" y1="349.2" x2="137.5" y2="604.5"/><line x1="185.3" y1="349.2" x2="185.3" y2="604.5"/><line x1="233.1" y1="349.2" x2="233.1" y2="604.5"/><line x1="280.8" y1="349.2" x2="280.8" y2="604.5"/></g>
<g stroke="#7a7a7a" stroke-width="1.5" stroke-dasharray="1.6 1.7"><line x1="42.0" y1="568.0" x2="328.6" y2="568.0"/><line x1="42.0" y1="531.6" x2="328.6" y2="531.6"/><line x1="42.0" y1="495.1" x2="328.6" y2="495.1"/><line x1="42.0" y1="458.6" x2="328.6" y2="458.6"/><line x1="42.0" y1="422.1" x2="328.6" y2="422.1"/><line x1="42.0" y1="385.7" x2="328.6" y2="385.7"/></g>
<g stroke="#666" stroke-width="1.4"><line x1="89.8" y1="601.0" x2="89.8" y2="604.5"/><line x1="89.8" y1="349.2" x2="89.8" y2="352.7"/><line x1="137.5" y1="601.0" x2="137.5" y2="604.5"/><line x1="137.5" y1="349.2" x2="137.5" y2="352.7"/><line x1="185.3" y1="601.0" x2="185.3" y2="604.5"/><line x1="185.3" y1="349.2" x2="185.3" y2="352.7"/><line x1="233.1" y1="601.0" x2="233.1" y2="604.5"/><line x1="233.1" y1="349.2" x2="233.1" y2="352.7"/><line x1="280.8" y1="601.0" x2="280.8" y2="604.5"/><line x1="280.8" y1="349.2" x2="280.8" y2="352.7"/><line x1="42.0" y1="568.0" x2="45.5" y2="568.0"/><line x1="325.1" y1="568.0" x2="328.6" y2="568.0"/><line x1="42.0" y1="531.6" x2="45.5" y2="531.6"/><line x1="325.1" y1="531.6" x2="328.6" y2="531.6"/><line x1="42.0" y1="495.1" x2="45.5" y2="495.1"/><line x1="325.1" y1="495.1" x2="328.6" y2="495.1"/><line x1="42.0" y1="458.6" x2="45.5" y2="458.6"/><line x1="325.1" y1="458.6" x2="328.6" y2="458.6"/><line x1="42.0" y1="422.1" x2="45.5" y2="422.1"/><line x1="325.1" y1="422.1" x2="328.6" y2="422.1"/><line x1="42.0" y1="385.7" x2="45.5" y2="385.7"/><line x1="325.1" y1="385.7" x2="328.6" y2="385.7"/></g>
<g transform="translate(41,348) scale(0.42190,0.42191)" fill="none" stroke-width="8.30" stroke-linejoin="round" stroke-linecap="round">
<polyline stroke="#404040" points="5,545 30,500 60,470 115,460 175,465 215,468 245,420 270,280 300,140 320,105 345,92 370,100 390,100 400,85 460,85 480,65 500,55 530,60 568,72"/>
<polyline stroke="#0000ff" points="5,520 40,505 115,505 210,508 240,430 270,280 300,150 320,110 345,105 370,115 390,118"/>
<polyline stroke="#0000ff" points="400,115 460,100 490,75 520,70 568,85"/>
<polyline stroke="#00bfbf" points="225,560 250,430 280,280 310,150 340,110 400,118 460,115 490,90 530,95 568,105"/>
<polyline stroke="#0000ff" points="230,540 260,380 290,260 330,210 380,190 430,170 470,140 520,130 568,140"/>
<polyline stroke="#bf00bf" points="5,590 220,570 280,540 320,520 350,440 380,330 410,230 440,160 470,125 520,120 568,125 625,80"/>
<polyline stroke="#bfbf00" points="5,560 220,565 260,480 290,350 315,263 370,266 405,277 432,294 446,294 481,260 515,249 571,256 626,273"/>
<polyline stroke="#bfbf00" points="230,575 300,520 350,460 420,250 460,150 520,130 568,125 625,100"/>
<polyline stroke="#404040" points="5,580 220,570 270,520 320,450 360,400 400,300 440,200 480,150 540,140 625,115"/>
<polyline stroke="#ff0000" points="220,570 260,490 300,380 315,294 349,270 391,260 425,249 453,225 470,200 500,165 540,165 568,180"/>
<polyline stroke="#00bfbf" points="230,540 280,450 315,263 370,266 418,280 453,253 490,210 530,215 568,225"/>
<polyline stroke="#008000" points="5,525 60,515 115,520 210,525 240,480 270,430 300,370 340,330 400,280 450,250 500,235 560,225 625,225"/>
<polyline stroke="#0000ff" points="5,580 220,575 260,545 300,470 340,430 380,380 430,290 470,250 520,250 568,245 625,228"/>
<polyline stroke="#00bfbf" points="230,570 300,500 360,470 420,400 474,356 495,329 557,322 626,329"/>
<polyline stroke="#bfbf00" points="230,565 300,535 349,522 391,481 439,405 474,356 495,322 543,322 591,325 626,336"/>
<polyline stroke="#ff0000" points="220,560 260,470 300,430 340,415 380,420 420,400 460,380 500,355 540,360 568,370 625,375"/>
<polyline stroke="#bf00bf" points="211,522 252,516 315,516 322,446 349,432 384,426 418,439 453,446 488,412 522,370 557,363 626,377"/>
<polyline stroke="#008000" points="230,560 280,440 320,405 360,400 420,380 480,350 540,350 625,355"/>
<polyline stroke="#404040" points="230,560 280,440 310,405 340,410 400,390 450,375 500,360 568,370"/>
<polyline stroke="#ff0000" points="220,560 280,430 330,420 380,425 430,395 490,355 540,365 625,370"/>
<polyline stroke="#bf00bf" points="230,570 300,520 330,440 370,440 420,445 460,445 500,395 540,360 625,370"/>
<polyline stroke="#bfbf00" points="230,575 280,536 336,522 391,495 418,460 453,439 488,426 522,419 571,422 626,412"/>
<polyline stroke="#0000ff" points="5,590 211,557 301,557 336,516 370,481 418,446 453,446 502,439 550,426 591,429 626,432"/>
<polyline stroke="#008000" points="5,570 220,570 250,530 280,495 336,474 384,478 453,481 502,453 543,436 578,439 626,446"/>
<polyline stroke="#bf00bf" points="205,565 218,540 232,518 280,515 330,500 380,420 420,390 470,360 520,355 568,370"/>
<polyline stroke="#bfbf00" points="5,560 60,550 115,560 215,560"/>
<polyline stroke="#ff0000" points="5,570 60,560 120,565 215,565 240,540"/>
<polyline stroke="#0000ff" points="5,578 100,575 215,575 240,560"/>
<polyline stroke="#404040" points="5,583 100,580 215,575"/>
<polyline stroke="#00bfbf" points="5,595 100,592 215,588 240,570"/>
<polyline stroke="#0000ff" points="5,590 100,590 215,590 240,575"/>
<polyline stroke="#bf00bf" points="5,585 100,583 215,580"/>
<polyline stroke="#bfbf00" points="5,570 60,562 115,568 215,568"/>
<polyline stroke="#0000ff" points="230,560 280,480 329,436 381,395 433,379 459,343 501,335 563,337 625,337"/>
</g>
<line x1="42.0" y1="349.2" x2="328.6" y2="349.2" stroke="#222" stroke-width="2" stroke-dasharray="1.6 1.7"/>
<line x1="41.1" y1="604.5" x2="329.5" y2="604.5" stroke="#383838" stroke-width="1.8"/>
<line x1="42.0" y1="349.2" x2="42.0" y2="604.5" stroke="#aaa" stroke-width="1.8"/>
<line x1="328.6" y1="349.2" x2="328.6" y2="604.5" stroke="#505050" stroke-width="1.8"/>
<g font-family="Liberation Sans" fill="#404048"><text x="35.5" y="609.2" font-size="13" textLength="4.0" lengthAdjust="spacingAndGlyphs">0</text><text x="23.5" y="572.7" font-size="13" textLength="16.0" lengthAdjust="spacingAndGlyphs">1000</text><text x="23.5" y="536.2" font-size="13" textLength="16.0" lengthAdjust="spacingAndGlyphs">2000</text><text x="23.5" y="499.8" font-size="13" textLength="16.0" lengthAdjust="spacingAndGlyphs">3000</text><text x="23.5" y="463.3" font-size="13" textLength="16.0" lengthAdjust="spacingAndGlyphs">4000</text><text x="23.5" y="426.8" font-size="13" textLength="16.0" lengthAdjust="spacingAndGlyphs">5000</text><text x="23.5" y="390.4" font-size="13" textLength="16.0" lengthAdjust="spacingAndGlyphs">6000</text><text x="23.5" y="353.9" font-size="13" textLength="16.0" lengthAdjust="spacingAndGlyphs">7000</text><text x="39.2" y="619.0" font-size="13" textLength="4.0" lengthAdjust="spacingAndGlyphs">0</text><text x="85.0" y="619.0" font-size="13" textLength="8.0" lengthAdjust="spacingAndGlyphs">20</text><text x="132.7" y="619.0" font-size="13" textLength="8.0" lengthAdjust="spacingAndGlyphs">40</text><text x="180.5" y="619.0" font-size="13" textLength="8.0" lengthAdjust="spacingAndGlyphs">60</text><text x="228.3" y="619.0" font-size="13" textLength="8.0" lengthAdjust="spacingAndGlyphs">80</text><text x="274.0" y="619.0" font-size="13" textLength="12.0" lengthAdjust="spacingAndGlyphs">100</text><text x="321.8" y="619.0" font-size="13" textLength="12.0" lengthAdjust="spacingAndGlyphs">120</text></g>
<g stroke="#7a7a7a" stroke-width="1.5" stroke-dasharray="2 3"><line x1="474.1" y1="350.5" x2="474.1" y2="609.3"/><line x1="524.7" y1="350.5" x2="524.7" y2="609.3"/><line x1="575.3" y1="350.5" x2="575.3" y2="609.3"/><line x1="626.0" y1="350.5" x2="626.0" y2="609.3"/></g>
<g stroke="#7a7a7a" stroke-width="1.5" stroke-dasharray="1.6 1.7"><line x1="372.8" y1="566.2" x2="676.6" y2="566.2"/><line x1="372.8" y1="523.0" x2="676.6" y2="523.0"/><line x1="372.8" y1="479.9" x2="676.6" y2="479.9"/><line x1="372.8" y1="436.8" x2="676.6" y2="436.8"/><line x1="372.8" y1="393.6" x2="676.6" y2="393.6"/></g>
<g stroke="#111" stroke-width="1.8" stroke-dasharray="2 2.8"><line x1="423.4" y1="350.5" x2="423.4" y2="609.3"/></g>
<g stroke="#666" stroke-width="1.4"><line x1="423.4" y1="605.8" x2="423.4" y2="609.3"/><line x1="423.4" y1="350.5" x2="423.4" y2="354.0"/><line x1="474.1" y1="605.8" x2="474.1" y2="609.3"/><line x1="474.1" y1="350.5" x2="474.1" y2="354.0"/><line x1="524.7" y1="605.8" x2="524.7" y2="609.3"/><line x1="524.7" y1="350.5" x2="524.7" y2="354.0"/><line x1="575.3" y1="605.8" x2="575.3" y2="609.3"/><line x1="575.3" y1="350.5" x2="575.3" y2="354.0"/><line x1="626.0" y1="605.8" x2="626.0" y2="609.3"/><line x1="626.0" y1="350.5" x2="626.0" y2="354.0"/><line x1="372.8" y1="566.2" x2="376.3" y2="566.2"/><line x1="673.1" y1="566.2" x2="676.6" y2="566.2"/><line x1="372.8" y1="523.0" x2="376.3" y2="523.0"/><line x1="673.1" y1="523.0" x2="676.6" y2="523.0"/><line x1="372.8" y1="479.9" x2="376.3" y2="479.9"/><line x1="673.1" y1="479.9" x2="676.6" y2="479.9"/><line x1="372.8" y1="436.8" x2="376.3" y2="436.8"/><line x1="673.1" y1="436.8" x2="676.6" y2="436.8"/><line x1="372.8" y1="393.6" x2="376.3" y2="393.6"/><line x1="673.1" y1="393.6" x2="676.6" y2="393.6"/></g>
<g transform="translate(372,350) scale(0.44526,0.44521)" fill="none" stroke-width="7.86" stroke-linejoin="round" stroke-linecap="round">
<polyline stroke="#0000ff" points="1.8,381.0 9.7,381.0 17.6,381.0 25.5,381.0 33.5,381.0 41.4,381.0 49.3,381.0 57.2,381.0 65.1,381.0 73.0,381.0 81.0,381.0 88.9,381.0 96.8,381.0 104.7,381.0 112.6,381.0 120.5,381.0 128.5,381.0 136.4,381.0 144.3,381.0 152.2,381.0 160.1,381.0 168.0,381.0 175.9,381.0 183.9,381.0 191.8,380.9 199.7,380.6 207.6,379.0 215.5,372.4 223.4,357.6 231.4,340.4 239.3,325.6 247.2,313.8 255.1,304.6 263.0,297.4 270.9,291.8 278.9,287.5 286.8,284.1 294.7,281.4 302.6,279.3 310.5,277.7 318.4,276.5 326.3,275.7 334.3,275.0 342.2,274.6 350.1,274.2 358.0,274.0 365.9,273.8 373.8,273.7 381.8,273.7 389.7,273.7 397.6,273.7 405.5,273.7 413.4,273.8 421.3,273.9 429.3,274.0 437.2,274.1 445.1,274.2 453.0,274.3 460.9,274.4 468.8,274.5 476.7,274.6 484.7,274.7 492.6,274.9 500.5,275.0 508.4,275.1 516.3,275.2 524.2,275.4 532.2,275.5 540.1,275.6 548.0,275.7 555.9,275.9 563.8,276.0 571.7,276.1 579.7,276.2 587.6,276.4 595.5,276.5 603.4,276.6 611.3,276.7 619.2,276.9 627.1,277.0"/>
<polyline stroke="#bf00bf" points="1.8,399.0 9.7,399.0 17.6,399.0 25.5,399.0 33.5,399.0 41.4,399.0 49.3,399.0 57.2,399.0 65.1,399.0 73.0,399.0 81.0,399.0 88.9,399.0 96.8,399.0 104.7,399.0 112.6,399.0 120.5,399.0 128.5,399.0 136.4,399.0 144.3,399.0 152.2,399.0 160.1,399.0 168.0,399.0 175.9,399.0 183.9,399.0 191.8,399.0 199.7,398.8 207.6,398.1 215.5,394.9 223.4,387.6 231.4,379.0 239.3,371.4 247.2,365.2 255.1,360.2 263.0,356.2 270.9,353.0 278.9,350.4 286.8,348.3 294.7,346.7 302.6,345.4 310.5,344.3 318.4,343.6 326.3,343.1 334.3,342.8 342.2,342.7 350.1,342.6 358.0,342.5 365.9,342.6 373.8,342.6 381.8,342.7 389.7,342.9 397.6,343.0 405.5,343.2 413.4,343.4 421.3,343.6 429.3,343.8 437.2,344.0 445.1,344.3 453.0,344.5 460.9,344.7 468.8,345.0 476.7,345.2 484.7,345.5 492.6,345.7 500.5,346.0 508.4,346.2 516.3,346.5 524.2,346.7 532.2,347.0 540.1,347.2 548.0,347.5 555.9,347.7 563.8,348.0 571.7,348.2 579.7,348.5 587.6,348.7 595.5,349.0 603.4,349.2 611.3,349.5 619.2,349.7 627.1,350.0"/>
<polyline stroke="#bf00bf" points="1.8,441.0 9.7,441.0 17.6,441.0 25.5,441.0 33.5,441.0 41.4,440.9 49.3,440.7 57.2,440.2 65.1,439.3 73.0,437.8 81.0,435.6 88.9,432.8 96.8,429.9 104.7,427.4 112.6,426.1 120.5,426.5 128.5,427.4 136.4,428.2 144.3,429.0 152.2,429.9 160.1,430.7 168.0,431.5 175.9,432.0 183.9,432.0 191.8,432.0 199.7,431.8 207.6,430.8 215.5,426.5 223.4,416.4 231.4,403.1 239.3,390.0 247.2,377.9 255.1,366.9 263.0,357.0 270.9,348.0 278.9,339.9 286.8,332.5 294.7,325.8 302.6,319.8 310.5,314.3 318.4,309.3 326.3,304.9 334.3,300.8 342.2,297.1 350.1,293.8 358.0,290.8 365.9,288.1 373.8,285.6 381.8,283.4 389.7,281.3 397.6,279.5 405.5,277.9 413.4,276.4 421.3,275.0 429.3,273.8 437.2,272.7 445.1,271.6 453.0,270.7 460.9,269.9 468.8,269.2 476.7,268.5 484.7,267.9 492.6,267.3 500.5,266.8 508.4,266.4 516.3,265.9 524.2,265.6 532.2,265.2 540.1,264.9 548.0,264.6 555.9,264.4 563.8,264.2 571.7,264.0 579.7,263.8 587.6,263.6 595.5,263.5 603.4,263.3 611.3,263.2 619.2,263.1 627.1,263.0"/>
<polyline stroke="#404040" points="1.8,446.0 9.7,446.0 17.6,446.0 25.5,446.0 33.5,446.0 41.4,445.9 49.3,445.8 57.2,445.5 65.1,444.9 73.0,443.9 81.0,442.4 88.9,440.6 96.8,438.6 104.7,437.0 112.6,436.1 120.5,436.4 128.5,436.9 136.4,437.5 144.3,438.0 152.2,438.6 160.1,439.1 168.0,439.7 175.9,440.0 183.9,440.0 191.8,439.9 199.7,439.7 207.6,438.2 215.5,432.2 223.4,417.6 231.4,398.5 239.3,379.4 247.2,361.8 255.1,345.7 263.0,331.0 270.9,317.6 278.9,305.4 286.8,294.3 294.7,284.2 302.6,274.9 310.5,266.5 318.4,258.9 326.3,251.9 334.3,245.5 342.2,239.7 350.1,234.4 358.0,229.6 365.9,225.2 373.8,221.2 381.8,217.5 389.7,214.2 397.6,211.2 405.5,208.4 413.4,205.9 421.3,203.6 429.3,201.5 437.2,199.6 445.1,197.9 453.0,196.3 460.9,194.8 468.8,193.5 476.7,192.3 484.7,191.2 492.6,190.2 500.5,189.3 508.4,188.5 516.3,187.7 524.2,187.1 532.2,186.4 540.1,185.9 548.0,185.3 555.9,184.9 563.8,184.4 571.7,184.0 579.7,183.7 587.6,183.4 595.5,183.1 603.4,182.8 611.3,182.5 619.2,182.3 627.1,182.1"/>
<polyline stroke="#bf00bf" points="1.8,456.0 9.7,456.0 17.6,456.0 25.5,456.0 33.5,456.0 41.4,456.0 49.3,456.0 57.2,456.0 65.1,456.0 73.0,456.0 81.0,456.0 88.9,456.0 96.8,456.0 104.7,456.0 112.6,456.0 120.5,456.0 128.5,456.0 136.4,456.0 144.3,456.0 152.2,456.0 160.1,456.0 168.0,456.0 175.9,456.0 183.9,456.0 191.8,455.9 199.7,455.6 207.6,453.7 215.5,446.1 223.4,428.6 231.4,407.4 239.3,388.4 247.2,372.5 255.1,359.4 263.0,348.7 270.9,339.9 278.9,332.7 286.8,326.8 294.7,322.0 302.6,318.0 310.5,314.8 318.4,312.2 326.3,310.3 334.3,308.8 342.2,307.5 350.1,306.6 358.0,305.9 365.9,305.3 373.8,304.9 381.8,304.6 389.7,304.4 397.6,304.3 405.5,304.3 413.4,304.3 421.3,304.3 429.3,304.4 437.2,304.5 445.1,304.7 453.0,304.8 460.9,305.0 468.8,305.2 476.7,305.4 484.7,305.6 492.6,305.8 500.5,306.1 508.4,306.3 516.3,306.5 524.2,306.8 532.2,307.0 540.1,307.3 548.0,307.5 555.9,307.8 563.8,308.0 571.7,308.2 579.7,308.5 587.6,308.7 595.5,309.0 603.4,309.2 611.3,309.5 619.2,309.8 627.1,310.0"/>
<polyline stroke="#00bfbf" points="1.8,461.0 9.7,461.0 17.6,461.0 25.5,461.0 33.5,461.0 41.4,461.0 49.3,461.0 57.2,461.0 65.1,461.0 73.0,461.0 81.0,461.0 88.9,461.0 96.8,461.0 104.7,461.0 112.6,461.0 120.5,461.0 128.5,461.0 136.4,461.0 144.3,461.0 152.2,461.0 160.1,461.0 168.0,461.0 175.9,461.0 183.9,461.0 191.8,460.9 199.7,460.4 207.6,457.9 215.5,447.4 223.4,423.0 231.4,392.6 239.3,364.4 247.2,340.2 255.1,319.5 263.0,302.0 270.9,287.2 278.9,274.7 286.8,264.0 294.7,255.0 302.6,247.4 310.5,240.9 318.4,235.5 326.3,231.1 334.3,227.3 342.2,224.2 350.1,221.6 358.0,219.4 365.9,217.6 373.8,216.0 381.8,214.8 389.7,213.8 397.6,212.9 405.5,212.2 413.4,211.7 421.3,211.3 429.3,210.9 437.2,210.7 445.1,210.5 453.0,210.4 460.9,210.3 468.8,210.3 476.7,210.3 484.7,210.3 492.6,210.3 500.5,210.4 508.4,210.5 516.3,210.6 524.2,210.8 532.2,210.9 540.1,211.1 548.0,211.2 555.9,211.4 563.8,211.6 571.7,211.7 579.7,211.9 587.6,212.1 595.5,212.3 603.4,212.5 611.3,212.7 619.2,212.9 627.1,213.0"/>
<polyline stroke="#008000" points="1.8,466.0 9.7,466.0 17.6,466.0 25.5,466.0 33.5,466.0 41.4,466.0 49.3,466.0 57.2,466.0 65.1,466.0 73.0,466.0 81.0,466.0 88.9,466.0 96.8,466.0 104.7,466.0 112.6,466.0 120.5,466.0 128.5,466.0 136.4,466.0 144.3,466.0 152.2,466.0 160.1,466.0 168.0,466.0 175.9,466.0 183.9,466.0 191.8,465.9 199.7,465.6 207.6,463.7 215.5,455.9 223.4,437.2 231.4,412.4 239.3,387.6 247.2,364.6 255.1,343.4 263.0,323.9 270.9,306.1 278.9,289.7 286.8,274.8 294.7,261.0 302.6,248.4 310.5,236.9 318.4,226.3 326.3,216.6 334.3,207.7 342.2,199.6 350.1,192.1 358.0,185.3 365.9,179.0 373.8,173.3 381.8,168.0 389.7,163.2 397.6,158.7 405.5,154.7 413.4,150.9 421.3,147.5 429.3,144.4 437.2,141.5 445.1,138.9 453.0,136.5 460.9,134.3 468.8,132.3 476.7,130.4 484.7,128.7 492.6,127.1 500.5,125.7 508.4,124.4 516.3,123.2 524.2,122.1 532.2,121.1 540.1,120.2 548.0,119.3 555.9,118.5 563.8,117.8 571.7,117.2 579.7,116.6 587.6,116.0 595.5,115.5 603.4,115.1 611.3,114.6 619.2,114.3 627.1,113.9"/>
<polyline stroke="#bfbf00" points="1.8,471.0 9.7,471.0 17.6,471.0 25.5,471.0 33.5,471.0 41.4,471.0 49.3,471.0 57.2,471.0 65.1,471.0 73.0,471.0 81.0,471.0 88.9,471.0 96.8,471.0 104.7,471.0 112.6,471.0 120.5,471.0 128.5,471.0 136.4,471.0 144.3,471.0 152.2,471.0 160.1,471.0 168.0,471.0 175.9,471.0 183.9,471.0 191.8,470.9 199.7,470.6 207.6,469.1 215.5,462.4 223.4,446.3 231.4,425.0 239.3,403.4 247.2,383.1 255.1,364.3 263.0,346.8 270.9,330.7 278.9,315.8 286.8,301.9 294.7,289.1 302.6,277.3 310.5,266.3 318.4,256.2 326.3,246.8 334.3,238.1 342.2,230.0 350.1,222.6 358.0,215.7 365.9,209.3 373.8,203.4 381.8,198.0 389.7,192.9 397.6,188.2 405.5,183.9 413.4,179.9 421.3,176.2 429.3,172.7 437.2,169.5 445.1,166.6 453.0,163.9 460.9,161.4 468.8,159.0 476.7,156.9 484.7,154.9 492.6,153.0 500.5,151.3 508.4,149.7 516.3,148.2 524.2,146.9 532.2,145.6 540.1,144.5 548.0,143.4 555.9,142.4 563.8,141.5 571.7,140.6 579.7,139.8 587.6,139.1 595.5,138.4 603.4,137.8 611.3,137.2 619.2,136.7 627.1,136.2"/>
<polyline stroke="#ff0000" points="1.8,476.0 9.7,476.0 17.6,476.0 25.5,476.0 33.5,476.0 41.4,476.0 49.3,476.0 57.2,476.0 65.1,476.0 73.0,476.0 81.0,476.0 88.9,476.0 96.8,476.0 104.7,476.0 112.6,476.0 120.5,476.0 128.5,476.0 136.4,476.0 144.3,476.0 152.2,476.0 160.1,476.0 168.0,476.0 175.9,476.0 183.9,476.0 191.8,475.9 199.7,475.5 207.6,473.1 215.5,463.3 223.4,440.7 231.4,413.4 239.3,388.9 247.2,368.4 255.1,351.6 263.0,337.7 270.9,326.4 278.9,317.2 286.8,309.5 294.7,303.3 302.6,298.2 310.5,294.0 318.4,290.7 326.3,288.0 334.3,285.8 342.2,284.0 350.1,282.6 358.0,281.5 365.9,280.5 373.8,279.8 381.8,279.3 389.7,278.8 397.6,278.5 405.5,278.2 413.4,278.0 421.3,277.9 429.3,277.8 437.2,277.8 445.1,277.7 453.0,277.7 460.9,277.8 468.8,277.8 476.7,277.9 484.7,278.0 492.6,278.0 500.5,278.1 508.4,278.2 516.3,278.3 524.2,278.4 532.2,278.6 540.1,278.7 548.0,278.8 555.9,278.9 563.8,279.0 571.7,279.1 579.7,279.3 587.6,279.4 595.5,279.5 603.4,279.6 611.3,279.8 619.2,279.9 627.1,280.0"/>
<polyline stroke="#008000" points="1.8,466.0 9.7,466.0 17.6,466.0 25.5,466.0 33.5,466.0 41.4,466.0 49.3,466.0 57.2,466.0 65.1,466.0 73.0,466.0 81.0,466.0 88.9,466.0 96.8,466.0 104.7,466.0 112.6,466.0 120.5,466.0 128.5,466.0 136.4,466.0 144.3,466.0 152.2,466.0 160.1,466.0 168.0,466.0 175.9,466.0 183.9,466.0 191.8,465.9 199.7,465.6 207.6,463.9 215.5,456.7 223.4,439.4 231.4,416.5 239.3,393.4 247.2,371.8 255.1,351.9 263.0,333.5 270.9,316.5 278.9,300.9 286.8,286.5 294.7,273.3 302.6,261.1 310.5,249.8 318.4,239.4 326.3,229.9 334.3,221.1 342.2,213.0 350.1,205.5 358.0,198.6 365.9,192.3 373.8,186.5 381.8,181.1 389.7,176.1 397.6,171.5 405.5,167.3 413.4,163.4 421.3,159.9 429.3,156.6 437.2,153.5 445.1,150.8 453.0,148.2 460.9,145.8 468.8,143.6 476.7,141.6 484.7,139.7 492.6,138.0 500.5,136.5 508.4,135.0 516.3,133.7 524.2,132.4 532.2,131.3 540.1,130.3 548.0,129.3 555.9,128.4 563.8,127.6 571.7,126.8 579.7,126.1 587.6,125.5 595.5,124.9 603.4,124.4 611.3,123.9 619.2,123.4 627.1,123.0"/>
<polyline stroke="#0000ff" points="1.8,461.0 9.7,461.0 17.6,461.0 25.5,461.0 33.5,461.0 41.4,461.0 49.3,461.0 57.2,461.0 65.1,461.0 73.0,461.0 81.0,461.0 88.9,461.0 96.8,461.0 104.7,461.0 112.6,461.0 120.5,461.0 128.5,461.0 136.4,461.0 144.3,461.0 152.2,461.0 160.1,461.0 168.0,461.0 175.9,461.0 183.9,461.0 191.8,460.9 199.7,460.6 207.6,459.1 215.5,452.5 223.4,436.5 231.4,415.2 239.3,393.8 247.2,373.6 255.1,354.9 263.0,337.6 270.9,321.5 278.9,306.7 286.8,292.9 294.7,280.2 302.6,268.4 310.5,257.5 318.4,247.4 326.3,238.1 334.3,229.5 342.2,221.5 350.1,214.1 358.0,207.2 365.9,200.9 373.8,195.0 381.8,189.6 389.7,184.5 397.6,179.9 405.5,175.6 413.4,171.6 421.3,167.9 429.3,164.5 437.2,161.3 445.1,158.4 453.0,155.7 460.9,153.2 468.8,150.8 476.7,148.7 484.7,146.7 492.6,144.9 500.5,143.2 508.4,141.6 516.3,140.1 524.2,138.8 532.2,137.5 540.1,136.4 548.0,135.3 555.9,134.3 563.8,133.4 571.7,132.6 579.7,131.8 587.6,131.0 595.5,130.4 603.4,129.7 611.3,129.2 619.2,128.6 627.1,128.1"/>
<polyline stroke="#404040" points="1.8,446.0 9.7,446.0 17.6,446.0 25.5,446.0 33.5,446.0 41.4,446.0 49.3,446.0 57.2,446.0 65.1,446.0 73.0,446.0 81.0,446.0 88.9,446.0 96.8,446.0 104.7,446.0 112.6,446.0 120.5,446.0 128.5,446.0 136.4,446.0 144.3,446.0 152.2,446.0 160.1,446.0 168.0,446.0 175.9,446.0 183.9,446.0 191.8,446.0 199.7,445.9 207.6,445.7 215.5,444.7 223.4,442.6 231.4,440.0 239.3,437.9 247.2,436.1 255.1,434.8 263.0,433.7 270.9,432.9 278.9,432.3 286.8,431.8 294.7,431.4 302.6,431.1 310.5,430.8 318.4,431.0 326.3,431.7 334.3,432.3 342.2,433.0 350.1,433.7 358.0,434.4 365.9,435.1 373.8,435.8 381.8,436.5 389.7,437.3 397.6,438.0 405.5,438.8 413.4,439.5 421.3,440.3 429.3,441.0 437.2,441.8 445.1,442.5 453.0,443.3 460.9,444.1 468.8,444.8 476.7,445.6 484.7,446.3 492.6,447.1 500.5,447.9 508.4,448.6 516.3,449.4 524.2,450.1 532.2,450.9 540.1,451.6 548.0,452.4 555.9,453.2 563.8,453.9 571.7,454.7 579.7,455.4 587.6,456.2 595.5,457.0 603.4,457.7 611.3,458.5 619.2,459.2 627.1,460.0"/>
<polyline stroke="#ff0000" points="1.8,476.0 9.7,476.0 17.6,476.0 25.5,476.0 33.5,476.0 41.4,476.0 49.3,476.0 57.2,476.0 65.1,476.0 73.0,476.0 81.0,476.0 88.9,476.0 96.8,476.0 104.7,476.0 112.6,476.0 120.5,476.0 128.5,476.0 136.4,476.0 144.3,476.0 152.2,476.0 160.1,476.0 168.0,476.0 175.9,476.0 183.9,476.0 191.8,475.9 199.7,475.5 207.6,473.3 215.5,464.3 223.4,444.0 231.4,419.7 239.3,398.3 247.2,380.8 255.1,366.8 263.0,355.5 270.9,346.5 278.9,339.3 286.8,333.5 294.7,328.8 302.6,325.1 310.5,322.1 318.4,320.0 326.3,318.7 334.3,317.8 342.2,317.2 350.1,316.9 358.0,316.7 365.9,316.7 373.8,316.8 381.8,317.0 389.7,317.3 397.6,317.7 405.5,318.1 413.4,318.6 421.3,319.1 429.3,319.6 437.2,320.2 445.1,320.7 453.0,321.3 460.9,321.9 468.8,322.5 476.7,323.1 484.7,323.7 492.6,324.3 500.5,324.9 508.4,325.6 516.3,326.2 524.2,326.8 532.2,327.4 540.1,328.1 548.0,328.7 555.9,329.3 563.8,329.9 571.7,330.6 579.7,331.2 587.6,331.8 595.5,332.5 603.4,333.1 611.3,333.7 619.2,334.4 627.1,335.0"/>
<polyline stroke="#00bfbf" points="1.8,505.0 9.7,505.0 17.6,505.0 25.5,505.0 33.5,504.9 41.4,504.8 49.3,504.6 57.2,504.0 65.1,503.0 73.0,501.2 81.0,498.5 88.9,495.2 96.8,491.7 104.7,488.7 112.6,487.1 120.5,487.6 128.5,488.6 136.4,489.6 144.3,490.6 152.2,491.6 160.1,492.7 168.0,493.7 175.9,494.2 183.9,494.2 191.8,494.1 199.7,493.8 207.6,491.9 215.5,484.1 223.4,466.4 231.4,445.3 239.3,426.7 247.2,411.5 255.1,399.3 263.0,389.6 270.9,381.7 278.9,375.4 286.8,370.4 294.7,366.3 302.6,363.1 310.5,360.5 318.4,358.6 326.3,357.3 334.3,356.4 342.2,355.7 350.1,355.2 358.0,354.9 365.9,354.7 373.8,354.6 381.8,354.7 389.7,354.8 397.6,354.9 405.5,355.1 413.4,355.3 421.3,355.6 429.3,355.9 437.2,356.2 445.1,356.5 453.0,356.8 460.9,357.2 468.8,357.5 476.7,357.9 484.7,358.2 492.6,358.6 500.5,359.0 508.4,359.3 516.3,359.7 524.2,360.1 532.2,360.5 540.1,360.8 548.0,361.2 555.9,361.6 563.8,362.0 571.7,362.3 579.7,362.7 587.6,363.1 595.5,363.5 603.4,363.9 611.3,364.2 619.2,364.6 627.1,365.0"/>
<polyline stroke="#bfbf00" points="1.8,514.0 9.7,514.0 17.6,514.0 25.5,514.0 33.5,514.0 41.4,514.0 49.3,514.0 57.2,514.0 65.1,514.0 73.0,514.0 81.0,514.0 88.9,514.0 96.8,514.0 104.7,514.0 112.6,514.0 120.5,514.0 128.5,514.0 136.4,514.0 144.3,514.0 152.2,514.0 160.1,514.0 168.0,514.0 175.9,514.0 183.9,514.0 191.8,513.9 199.7,513.5 207.6,511.1 215.5,501.1 223.4,477.1 231.4,445.3 239.3,413.6 247.2,384.1 255.1,356.9 263.0,332.0 270.9,309.2 278.9,288.2 286.8,269.0 294.7,251.5 302.6,235.3 310.5,220.6 318.4,207.0 326.3,194.7 334.3,183.3 342.2,172.9 350.1,163.4 358.0,154.7 365.9,146.7 373.8,139.4 381.8,132.7 389.7,126.6 397.6,120.9 405.5,115.8 413.4,111.1 421.3,106.8 429.3,102.8 437.2,99.2 445.1,95.9 453.0,92.8 460.9,90.0 468.8,87.5 476.7,85.2 484.7,83.1 492.6,81.1 500.5,79.3 508.4,77.7 516.3,76.2 524.2,74.8 532.2,73.6 540.1,72.5 548.0,71.4 555.9,70.5 563.8,69.6 571.7,68.8 579.7,68.1 587.6,67.5 595.5,66.9 603.4,66.3 611.3,65.9 619.2,65.4 627.1,65.0"/>
<polyline stroke="#ff0000" points="1.8,537.0 9.7,537.0 17.6,537.0 25.5,537.0 33.5,537.0 41.4,537.0 49.3,537.0 57.2,537.0 65.1,537.0 73.0,537.0 81.0,537.0 88.9,537.0 96.8,537.0 104.7,537.0 112.6,537.0 120.5,537.0 128.5,537.0 136.4,537.0 144.3,537.0 152.2,537.0 160.1,537.0 168.0,537.0 175.9,537.0 183.9,537.0 191.8,536.9 199.7,536.3 207.6,533.4 215.5,521.1 223.4,491.5 231.4,452.8 239.3,414.6 247.2,379.4 255.1,347.5 263.0,318.6 270.9,292.4 278.9,268.7 286.8,247.2 294.7,227.8 302.6,210.2 310.5,194.3 318.4,179.9 326.3,166.8 334.3,155.0 342.2,144.3 350.1,134.6 358.0,125.8 365.9,117.9 373.8,110.7 381.8,104.2 389.7,98.3 397.6,93.0 405.5,88.2 413.4,83.8 421.3,79.8 429.3,76.3 437.2,73.0 445.1,70.1 453.0,67.4 460.9,65.0 468.8,62.8 476.7,60.9 484.7,59.1 492.6,57.5 500.5,56.0 508.4,54.7 516.3,53.5 524.2,52.4 532.2,51.4 540.1,50.5 548.0,49.7 555.9,49.0 563.8,48.3 571.7,47.7 579.7,47.2 587.6,46.7 595.5,46.2 603.4,45.8 611.3,45.5 619.2,45.1 627.1,44.9"/>
<polyline stroke="#00bfbf" points="1.8,532.0 9.7,532.0 17.6,532.0 25.5,532.0 33.5,532.0 41.4,532.0 49.3,532.0 57.2,532.0 65.1,532.0 73.0,532.0 81.0,532.0 88.9,532.0 96.8,532.0 104.7,532.0 112.6,532.0 120.5,532.0 128.5,532.0 136.4,532.0 144.3,532.0 152.2,532.0 160.1,532.0 168.0,532.0 175.9,532.0 183.9,532.0 191.8,531.9 199.7,531.5 207.6,529.6 215.5,521.3 223.4,502.7 231.4,480.4 239.3,460.8 247.2,444.9 255.1,432.0 263.0,421.7 270.9,413.4 278.9,406.8 286.8,401.5 294.7,397.2 302.6,393.8 310.5,391.1 318.4,388.9 326.3,387.3 334.3,386.0 342.2,385.0 350.1,384.2 358.0,383.6 365.9,383.2 373.8,382.8 381.8,382.6 389.7,382.4 397.6,382.3 405.5,382.2 413.4,382.2 421.3,382.2 429.3,382.2 437.2,382.3 445.1,382.3 453.0,382.4 460.9,382.5 468.8,382.6 476.7,382.7 484.7,382.8 492.6,382.9 500.5,383.0 508.4,383.1 516.3,383.3 524.2,383.4 532.2,383.5 540.1,383.6 548.0,383.7 555.9,383.9 563.8,384.0 571.7,384.1 579.7,384.2 587.6,384.4 595.5,384.5 603.4,384.6 611.3,384.7 619.2,384.9 627.1,385.0"/>
<polyline stroke="#bf00bf" points="1.8,525.0 9.7,525.0 17.6,525.0 25.5,525.0 33.5,525.0 41.4,525.0 49.3,525.0 57.2,525.0 65.1,525.0 73.0,525.0 81.0,525.0 88.9,525.0 96.8,525.0 104.7,525.0 112.6,525.0 120.5,525.0 128.5,525.0 136.4,525.0 144.3,525.0 152.2,525.0 160.1,525.0 168.0,525.0 175.9,525.0 183.9,525.0 191.8,524.9 199.7,524.4 207.6,522.0 215.5,511.7 223.4,488.3 231.4,460.5 239.3,436.1 247.2,416.1 255.1,400.0 263.0,387.1 270.9,376.8 278.9,368.5 286.8,361.9 294.7,356.5 302.6,352.3 310.5,348.8 318.4,346.3 326.3,344.5 334.3,343.1 342.2,342.0 350.1,341.3 358.0,340.8 365.9,340.4 373.8,340.2 381.8,340.1 389.7,340.1 397.6,340.2 405.5,340.3 413.4,340.5 421.3,340.8 429.3,341.0 437.2,341.3 445.1,341.6 453.0,341.9 460.9,342.2 468.8,342.6 476.7,342.9 484.7,343.3 492.6,343.6 500.5,344.0 508.4,344.4 516.3,344.7 524.2,345.1 532.2,345.5 540.1,345.8 548.0,346.2 555.9,346.6 563.8,347.0 571.7,347.4 579.7,347.7 587.6,348.1 595.5,348.5 603.4,348.9 611.3,349.2 619.2,349.6 627.1,350.0"/>
<polyline stroke="#bfbf00" points="1.8,537.0 9.7,537.0 17.6,537.0 25.5,537.0 33.5,537.0 41.4,537.0 49.3,537.0 57.2,537.0 65.1,537.0 73.0,537.0 81.0,537.0 88.9,537.0 96.8,537.0 104.7,537.0 112.6,537.0 120.5,537.0 128.5,537.0 136.4,537.0 144.3,537.0 152.2,537.0 160.1,537.0 168.0,537.0 175.9,537.0 183.9,537.0 191.8,536.9 199.7,536.6 207.6,534.9 215.5,527.6 223.4,510.1 231.4,487.3 239.3,464.8 247.2,444.0 255.1,425.2 263.0,408.1 270.9,392.7 278.9,378.7 286.8,366.1 294.7,354.6 302.6,344.2 310.5,334.8 318.4,326.3 326.3,318.6 334.3,311.7 342.2,305.3 350.1,299.6 358.0,294.5 365.9,289.8 373.8,285.5 381.8,281.7 389.7,278.2 397.6,275.1 405.5,272.2 413.4,269.7 421.3,267.3 429.3,265.2 437.2,263.3 445.1,261.6 453.0,260.0 460.9,258.6 468.8,257.3 476.7,256.1 484.7,255.1 492.6,254.1 500.5,253.3 508.4,252.5 516.3,251.8 524.2,251.1 532.2,250.5 540.1,250.0 548.0,249.5 555.9,249.1 563.8,248.7 571.7,248.4 579.7,248.1 587.6,247.8 595.5,247.5 603.4,247.3 611.3,247.1 619.2,246.9 627.1,246.7"/>
<polyline stroke="#ff0000" points="1.8,543.0 9.7,543.0 17.6,543.0 25.5,543.0 33.5,543.0 41.4,543.0 49.3,543.0 57.2,543.0 65.1,543.0 73.0,543.0 81.0,543.0 88.9,543.0 96.8,543.0 104.7,543.0 112.6,543.0 120.5,543.0 128.5,543.0 136.4,543.0 144.3,543.0 152.2,543.0 160.1,543.0 168.0,543.0 175.9,543.0 183.9,543.0 191.8,542.9 199.7,542.4 207.6,539.7 215.5,528.1 223.4,500.4 231.4,463.9 239.3,427.7 247.2,394.1 255.1,363.5 263.0,335.5 270.9,310.0 278.9,286.8 286.8,265.6 294.7,246.3 302.6,228.8 310.5,212.7 318.4,198.1 326.3,184.8 334.3,172.7 342.2,161.6 350.1,151.6 358.0,142.4 365.9,134.0 373.8,126.4 381.8,119.4 389.7,113.1 397.6,107.3 405.5,102.1 413.4,97.3 421.3,92.9 429.3,88.9 437.2,85.3 445.1,82.0 453.0,79.0 460.9,76.2 468.8,73.7 476.7,71.5 484.7,69.4 492.6,67.5 500.5,65.8 508.4,64.2 516.3,62.7 524.2,61.4 532.2,60.2 540.1,59.2 548.0,58.2 555.9,57.3 563.8,56.4 571.7,55.7 579.7,55.0 587.6,54.4 595.5,53.8 603.4,53.3 611.3,52.8 619.2,52.4 627.1,52.0"/>
<polyline stroke="#404040" points="1.8,553.0 9.7,553.0 17.6,553.0 25.5,553.0 33.5,553.0 41.4,553.0 49.3,553.0 57.2,553.0 65.1,553.0 73.0,553.0 81.0,553.0 88.9,553.0 96.8,553.0 104.7,553.0 112.6,553.0 120.5,553.0 128.5,553.0 136.4,553.0 144.3,553.0 152.2,553.0 160.1,553.0 168.0,553.0 175.9,553.0 183.9,553.0 191.8,553.0 199.7,552.8 207.6,551.8 215.5,547.8 223.4,538.9 231.4,528.4 239.3,519.4 247.2,512.3 255.1,506.7 263.0,502.4 270.9,499.0 278.9,496.4 286.8,494.3 294.7,492.7 302.6,491.4 310.5,490.5 318.4,489.9 326.3,489.6 334.3,489.5 342.2,489.4 350.1,489.5 358.0,489.6 365.9,489.7 373.8,489.9 381.8,490.2 389.7,490.4 397.6,490.7 405.5,491.0 413.4,491.3 421.3,491.5 429.3,491.9 437.2,492.2 445.1,492.5 453.0,492.8 460.9,493.1 468.8,493.4 476.7,493.8 484.7,494.1 492.6,494.4 500.5,494.7 508.4,495.1 516.3,495.4 524.2,495.7 532.2,496.1 540.1,496.4 548.0,496.7 555.9,497.0 563.8,497.4 571.7,497.7 579.7,498.0 587.6,498.4 595.5,498.7 603.4,499.0 611.3,499.3 619.2,499.7 627.1,500.0"/>
<polyline stroke="#bfbf00" points="1.8,514.0 9.7,514.0 17.6,514.0 25.5,514.0 33.5,514.0 41.4,514.0 49.3,514.0 57.2,514.0 65.1,514.0 73.0,514.0 81.0,514.0 88.9,514.0 96.8,514.0 104.7,514.0 112.6,514.0 120.5,514.0 128.5,514.0 136.4,514.0 144.3,514.0 152.2,514.0 160.1,514.0 168.0,514.0 175.9,514.0 183.9,514.0 191.8,513.9 199.7,513.5 207.6,511.3 215.5,502.1 223.4,479.7 231.4,450.1 239.3,420.3 247.2,392.5 255.1,366.7 263.0,343.0 270.9,321.1 278.9,301.0 286.8,282.4 294.7,265.3 302.6,249.6 310.5,235.1 318.4,221.7 326.3,209.4 334.3,198.0 342.2,187.6 350.1,177.9 358.0,169.0 365.9,160.9 373.8,153.3 381.8,146.4 389.7,140.0 397.6,134.1 405.5,128.6 413.4,123.6 421.3,119.0 429.3,114.8 437.2,110.9 445.1,107.3 453.0,103.9 460.9,100.9 468.8,98.1 476.7,95.5 484.7,93.1 492.6,90.9 500.5,88.8 508.4,86.9 516.3,85.2 524.2,83.6 532.2,82.2 540.1,80.8 548.0,79.6 555.9,78.4 563.8,77.4 571.7,76.4 579.7,75.5 587.6,74.7 595.5,73.9 603.4,73.2 611.3,72.6 619.2,72.0 627.1,71.4"/>
<polyline stroke="#0000ff" points="1.8,525.0 9.7,525.0 17.6,525.0 25.5,525.0 33.5,525.0 41.4,525.0 49.3,525.0 57.2,525.0 65.1,525.0 73.0,525.0 81.0,525.0 88.9,525.0 96.8,525.0 104.7,525.0 112.6,525.0 120.5,525.0 128.5,525.0 136.4,525.0 144.3,525.0 152.2,525.0 160.1,525.0 168.0,525.0 175.9,525.0 183.9,525.0 191.8,524.9 199.7,524.6 207.6,522.7 215.5,514.8 223.4,497.1 231.4,476.6 239.3,458.9 247.2,444.9 255.1,433.9 263.0,425.3 270.9,418.7 278.9,413.4 286.8,409.4 294.7,406.2 302.6,403.8 310.5,401.8 318.4,400.1 326.3,398.6 334.3,397.3 342.2,396.2 350.1,395.3 358.0,394.4 365.9,393.7 373.8,393.1 381.8,392.5 389.7,392.0 397.6,391.5 405.5,391.0 413.4,390.5 421.3,390.1 429.3,389.7 437.2,389.2 445.1,388.8 453.0,388.4 460.9,388.0 468.8,387.6 476.7,387.3 484.7,386.9 492.6,386.5 500.5,386.1 508.4,385.7 516.3,385.3 524.2,384.9 532.2,384.6 540.1,384.2 548.0,383.8 555.9,383.4 563.8,383.0 571.7,382.7 579.7,382.3 587.6,381.9 595.5,381.5 603.4,381.1 611.3,380.8 619.2,380.4 627.1,380.0"/>
<polyline stroke="#ff0000" points="1.8,543.0 9.7,543.0 17.6,543.0 25.5,543.0 33.5,543.0 41.4,543.0 49.3,543.0 57.2,543.0 65.1,543.0 73.0,543.0 81.0,543.0 88.9,543.0 96.8,543.0 104.7,543.0 112.6,543.0 120.5,543.0 128.5,543.0 136.4,543.0 144.3,543.0 152.2,543.0 160.1,543.0 168.0,543.0 175.9,543.0 183.9,543.0 191.8,542.9 199.7,542.5 207.6,540.2 215.5,530.9 223.4,509.6 231.4,484.3 239.3,462.0 247.2,443.8 255.1,429.2 263.0,417.5 270.9,408.0 278.9,400.5 286.8,394.5 294.7,389.6 302.6,385.7 310.5,382.6 318.4,380.5 326.3,379.2 334.3,378.4 342.2,377.9 350.1,377.6 358.0,377.5 365.9,377.6 373.8,377.8 381.8,378.2 389.7,378.6 397.6,379.1 405.5,379.6 413.4,380.2 421.3,380.8 429.3,381.5 437.2,382.1 445.1,382.8 453.0,383.5 460.9,384.2 468.8,385.0 476.7,385.7 484.7,386.4 492.6,387.2 500.5,387.9 508.4,388.7 516.3,389.4 524.2,390.2 532.2,390.9 540.1,391.7 548.0,392.4 555.9,393.2 563.8,393.9 571.7,394.7 579.7,395.4 587.6,396.2 595.5,397.0 603.4,397.7 611.3,398.5 619.2,399.2 627.1,400.0"/>
<polyline stroke="#ff0000" points="1.8,537.0 9.7,537.0 17.6,537.0 25.5,537.0 33.5,537.0 41.4,537.0 49.3,537.0 57.2,537.0 65.1,537.0 73.0,537.0 81.0,537.0 88.9,537.0 96.8,537.0 104.7,537.0 112.6,537.0 120.5,537.0 128.5,537.0 136.4,537.0 144.3,537.0 152.2,537.0 160.1,537.0 168.0,537.0 175.9,537.0 183.9,537.0 191.8,536.9 199.7,536.5 207.6,534.5 215.5,526.0 223.4,506.7 231.4,483.7 239.3,463.5 247.2,447.0 255.1,433.7 263.0,423.1 270.9,414.5 278.9,407.7 286.8,402.2 294.7,397.8 302.6,394.3 310.5,391.4 318.4,389.5 326.3,388.3 334.3,387.5 342.2,386.9 350.1,386.6 358.0,386.5 365.9,386.5 373.8,386.7 381.8,386.9 389.7,387.3 397.6,387.7 405.5,388.1 413.4,388.6 421.3,389.1 429.3,389.6 437.2,390.1 445.1,390.7 453.0,391.3 460.9,391.9 468.8,392.5 476.7,393.1 484.7,393.7 492.6,394.3 500.5,394.9 508.4,395.6 516.3,396.2 524.2,396.8 532.2,397.4 540.1,398.1 548.0,398.7 555.9,399.3 563.8,399.9 571.7,400.6 579.7,401.2 587.6,401.8 595.5,402.5 603.4,403.1 611.3,403.7 619.2,404.4 627.1,405.0"/>
<polyline stroke="#bfbf00" points="1.8,514.0 9.7,514.0 17.6,514.0 25.5,514.0 33.5,514.0 41.4,514.0 49.3,514.0 57.2,514.0 65.1,514.0 73.0,514.0 81.0,514.0 88.9,514.0 96.8,514.0 104.7,514.0 112.6,514.0 120.5,514.0 128.5,514.0 136.4,514.0 144.3,514.0 152.2,514.0 160.1,514.0 168.0,514.0 175.9,514.0 183.9,514.0 191.8,513.9 199.7,513.7 207.6,512.3 215.5,506.7 223.4,493.9 231.4,478.7 239.3,465.3 247.2,454.4 255.1,445.6 263.0,438.5 270.9,432.9 278.9,428.3 286.8,424.7 294.7,421.8 302.6,419.4 310.5,417.6 318.4,416.2 326.3,415.2 334.3,414.5 342.2,414.0 350.1,413.6 358.0,413.4 365.9,413.3 373.8,413.2 381.8,413.2 389.7,413.2 397.6,413.3 405.5,413.4 413.4,413.6 421.3,413.8 429.3,413.9 437.2,414.1 445.1,414.4 453.0,414.6 460.9,414.8 468.8,415.0 476.7,415.3 484.7,415.5 492.6,415.7 500.5,416.0 508.4,416.2 516.3,416.5 524.2,416.7 532.2,417.0 540.1,417.2 548.0,417.5 555.9,417.7 563.8,418.0 571.7,418.2 579.7,418.5 587.6,418.7 595.5,419.0 603.4,419.2 611.3,419.5 619.2,419.7 627.1,420.0"/>
<polyline stroke="#008000" points="1.8,532.0 9.7,532.0 17.6,532.0 25.5,532.0 33.5,532.0 41.4,532.0 49.3,532.0 57.2,532.0 65.1,532.0 73.0,532.0 81.0,532.0 88.9,532.0 96.8,532.0 104.7,532.0 112.6,532.0 120.5,532.0 128.5,532.0 136.4,532.0 144.3,532.0 152.2,532.0 160.1,532.0 168.0,532.0 175.9,532.0 183.9,532.0 191.8,531.9 199.7,531.5 207.6,529.5 215.5,521.0 223.4,501.7 231.4,478.7 239.3,458.5 247.2,442.0 255.1,428.7 263.0,418.1 270.9,409.5 278.9,402.7 286.8,397.2 294.7,392.8 302.6,389.3 310.5,386.4 318.4,384.4 326.3,383.1 334.3,382.2 342.2,381.5 350.1,381.1 358.0,380.8 365.9,380.7 373.8,380.7 381.8,380.9 389.7,381.1 397.6,381.3 405.5,381.6 413.4,382.0 421.3,382.4 429.3,382.8 437.2,383.2 445.1,383.6 453.0,384.1 460.9,384.5 468.8,385.0 476.7,385.5 484.7,386.0 492.6,386.5 500.5,387.0 508.4,387.5 516.3,387.9 524.2,388.4 532.2,388.9 540.1,389.4 548.0,390.0 555.9,390.5 563.8,391.0 571.7,391.5 579.7,392.0 587.6,392.5 595.5,393.0 603.4,393.5 611.3,394.0 619.2,394.5 627.1,395.0"/>
<polyline stroke="#00bfbf" points="1.8,532.0 9.7,532.0 17.6,532.0 25.5,532.0 33.5,532.0 41.4,532.0 49.3,532.0 57.2,532.0 65.1,532.0 73.0,532.0 81.0,532.0 88.9,532.0 96.8,532.0 104.7,532.0 112.6,532.0 120.5,532.0 128.5,532.0 136.4,532.0 144.3,532.0 152.2,532.0 160.1,532.0 168.0,532.0 175.9,532.0 183.9,532.0 191.8,531.9 199.7,531.6 207.6,529.7 215.5,522.0 223.4,504.6 231.4,483.8 239.3,465.5 247.2,450.6 255.1,438.6 263.0,428.9 270.9,421.2 278.9,415.0 286.8,410.1 294.7,406.1 302.6,402.9 310.5,400.3 318.4,398.3 326.3,396.6 334.3,395.3 342.2,394.3 350.1,393.4 358.0,392.7 365.9,392.2 373.8,391.8 381.8,391.4 389.7,391.1 397.6,390.9 405.5,390.7 413.4,390.6 421.3,390.5 429.3,390.4 437.2,390.3 445.1,390.2 453.0,390.2 460.9,390.2 468.8,390.1 476.7,390.1 484.7,390.1 492.6,390.1 500.5,390.1 508.4,390.0 516.3,390.0 524.2,390.0 532.2,390.0 540.1,390.0 548.0,390.0 555.9,390.0 563.8,390.0 571.7,390.0 579.7,390.0 587.6,390.0 595.5,390.0 603.4,390.0 611.3,390.0 619.2,390.0 627.1,390.0"/>
<polyline stroke="#0000ff" points="1.8,461.0 9.7,461.0 17.6,461.0 25.5,461.0 33.5,461.0 41.4,461.0 49.3,461.0 57.2,461.0 65.1,461.0 73.0,461.0 81.0,461.0 88.9,461.0 96.8,461.0 104.7,461.0 112.6,461.0 120.5,461.0 128.5,461.0 136.4,461.0 144.3,461.0 152.2,461.0 160.1,461.0 168.0,461.0 175.9,461.0 183.9,461.0 191.8,460.9 199.7,460.6 207.6,458.7 215.5,451.1 223.4,433.6 231.4,412.4 239.3,393.4 247.2,377.5 255.1,364.4 263.0,353.7 270.9,344.9 278.9,337.7 286.8,331.8 294.7,327.0 302.6,323.0 310.5,319.8 318.4,317.4 326.3,315.7 334.3,314.4 342.2,313.4 350.1,312.7 358.0,312.3 365.9,312.0 373.8,311.8 381.8,311.8 389.7,311.8 397.6,312.0 405.5,312.2 413.4,312.4 421.3,312.7 429.3,313.1 437.2,313.5 445.1,313.9 453.0,314.3 460.9,314.7 468.8,315.1 476.7,315.6 484.7,316.1 492.6,316.5 500.5,317.0 508.4,317.5 516.3,318.0 524.2,318.5 532.2,319.0 540.1,319.5 548.0,320.0 555.9,320.5 563.8,321.0 571.7,321.5 579.7,322.0 587.6,322.5 595.5,323.0 603.4,323.5 611.3,324.0 619.2,324.5 627.1,325.0"/>
<polyline stroke="#00bfbf" points="1.8,461.0 9.7,461.0 17.6,461.0 25.5,461.0 33.5,461.0 41.4,461.0 49.3,461.0 57.2,461.0 65.1,461.0 73.0,461.0 81.0,461.0 88.9,461.0 96.8,461.0 104.7,461.0 112.6,461.0 120.5,461.0 128.5,461.0 136.4,461.0 144.3,461.0 152.2,461.0 160.1,461.0 168.0,461.0 175.9,461.0 183.9,461.0 191.8,460.9 199.7,460.6 207.6,458.7 215.5,451.1 223.4,433.6 231.4,412.4 239.3,393.4 247.2,377.5 255.1,364.4 263.0,353.7 270.9,344.9 278.9,337.7 286.8,331.8 294.7,327.0 302.6,323.0 310.5,319.8 318.4,317.3 326.3,315.4 334.3,314.0 342.2,312.8 350.1,311.9 358.0,311.3 365.9,310.8 373.8,310.5 381.8,310.3 389.7,310.1 397.6,310.1 405.5,310.1 413.4,310.2 421.3,310.4 429.3,310.5 437.2,310.7 445.1,310.9 453.0,311.2 460.9,311.4 468.8,311.7 476.7,312.0 484.7,312.3 492.6,312.6 500.5,312.9 508.4,313.2 516.3,313.5 524.2,313.8 532.2,314.1 540.1,314.4 548.0,314.7 555.9,315.1 563.8,315.4 571.7,315.7 579.7,316.0 587.6,316.4 595.5,316.7 603.4,317.0 611.3,317.3 619.2,317.7 627.1,318.0"/>
<polyline stroke="#404040" points="1.8,446.0 9.7,446.0 17.6,446.0 25.5,446.0 33.5,446.0 41.4,446.0 49.3,446.0 57.2,446.0 65.1,446.0 73.0,446.0 81.0,446.0 88.9,446.0 96.8,446.0 104.7,446.0 112.6,446.0 120.5,446.0 128.5,446.0 136.4,446.0 144.3,446.0 152.2,446.0 160.1,446.0 168.0,446.0 175.9,446.0 183.9,446.0 191.8,445.9 199.7,445.6 207.6,444.1 215.5,437.6 223.4,422.5 231.4,403.8 239.3,386.4 247.2,371.4 255.1,358.7 263.0,347.9 270.9,338.7 278.9,331.0 286.8,324.4 294.7,318.9 302.6,314.1 310.5,310.2 318.4,306.8 326.3,304.0 334.3,301.6 342.2,299.6 350.1,297.9 358.0,296.5 365.9,295.3 373.8,294.3 381.8,293.4 389.7,292.7 397.6,292.1 405.5,291.6 413.4,291.2 421.3,290.9 429.3,290.6 437.2,290.3 445.1,290.2 453.0,290.0 460.9,289.9 468.8,289.8 476.7,289.7 484.7,289.7 492.6,289.6 500.5,289.6 508.4,289.6 516.3,289.6 524.2,289.6 532.2,289.6 540.1,289.6 548.0,289.6 555.9,289.7 563.8,289.7 571.7,289.7 579.7,289.8 587.6,289.8 595.5,289.9 603.4,289.9 611.3,289.9 619.2,290.0 627.1,290.0"/>
</g>
<line x1="371.9" y1="350.5" x2="677.5" y2="350.5" stroke="#606060" stroke-width="1.8"/>
<line x1="371.9" y1="609.3" x2="677.5" y2="609.3" stroke="#606060" stroke-width="1.8"/>
<line x1="372.8" y1="350.5" x2="372.8" y2="609.3" stroke="#999" stroke-width="1.8"/>
<line x1="676.6" y1="350.5" x2="676.6" y2="609.3" stroke="#888" stroke-width="1.8"/>
<g font-family="Liberation Sans" fill="#404048"><text x="357.4" y="613.3" font-size="11" textLength="13.4" lengthAdjust="spacingAndGlyphs">-0.5</text><text x="366.6" y="570.1" font-size="11" textLength="4.2" lengthAdjust="spacingAndGlyphs">0</text><text x="360.4" y="527.0" font-size="11" textLength="10.4" lengthAdjust="spacingAndGlyphs">0.5</text><text x="366.6" y="483.9" font-size="11" textLength="4.2" lengthAdjust="spacingAndGlyphs">1</text><text x="360.4" y="440.7" font-size="11" textLength="10.4" lengthAdjust="spacingAndGlyphs">1.5</text><text x="366.6" y="397.6" font-size="11" textLength="4.2" lengthAdjust="spacingAndGlyphs">2</text><text x="360.4" y="354.5" font-size="11" textLength="10.4" lengthAdjust="spacingAndGlyphs">2.5</text><text x="370.0" y="622.5" font-size="11" textLength="4.0" lengthAdjust="spacingAndGlyphs">0</text><text x="418.6" y="622.5" font-size="11" textLength="8.0" lengthAdjust="spacingAndGlyphs">20</text><text x="469.3" y="622.5" font-size="11" textLength="8.0" lengthAdjust="spacingAndGlyphs">40</text><text x="519.9" y="622.5" font-size="11" textLength="8.0" lengthAdjust="spacingAndGlyphs">60</text><text x="570.5" y="622.5" font-size="11" textLength="8.0" lengthAdjust="spacingAndGlyphs">80</text><text x="619.2" y="622.5" font-size="11" textLength="12.0" lengthAdjust="spacingAndGlyphs">100</text><text x="669.8" y="622.5" font-size="11" textLength="12.0" lengthAdjust="spacingAndGlyphs">120</text></g>
<text x="372.8" y="345.3" font-family="Liberation Sans" font-size="11" fill="#404048" textLength="14" lengthAdjust="spacingAndGlyphs">x 10</text>
<text x="387.2" y="337.5" font-family="Liberation Sans" font-size="6.5" fill="#404048">4</text>
<g stroke="#7a7a7a" stroke-width="1.5" stroke-dasharray="2 3"><line x1="92.6" y1="681.9" x2="92.6" y2="938.5"/><line x1="186.9" y1="681.9" x2="186.9" y2="938.5"/><line x1="234.0" y1="681.9" x2="234.0" y2="938.5"/><line x1="281.2" y1="681.9" x2="281.2" y2="938.5"/></g>
<g stroke="#7a7a7a" stroke-width="1.5" stroke-dasharray="1.6 1.7"><line x1="45.5" y1="901.8" x2="328.3" y2="901.8"/><line x1="45.5" y1="865.2" x2="328.3" y2="865.2"/><line x1="45.5" y1="828.5" x2="328.3" y2="828.5"/><line x1="45.5" y1="791.9" x2="328.3" y2="791.9"/><line x1="45.5" y1="755.2" x2="328.3" y2="755.2"/><line x1="45.5" y1="718.6" x2="328.3" y2="718.6"/></g>
<g stroke="#111" stroke-width="1.8" stroke-dasharray="2 2.8"><line x1="139.8" y1="681.9" x2="139.8" y2="938.5"/></g>
<g stroke="#666" stroke-width="1.4"><line x1="92.6" y1="935.0" x2="92.6" y2="938.5"/><line x1="92.6" y1="681.9" x2="92.6" y2="685.4"/><line x1="139.8" y1="935.0" x2="139.8" y2="938.5"/><line x1="139.8" y1="681.9" x2="139.8" y2="685.4"/><line x1="186.9" y1="935.0" x2="186.9" y2="938.5"/><line x1="186.9" y1="681.9" x2="186.9" y2="685.4"/><line x1="234.0" y1="935.0" x2="234.0" y2="938.5"/><line x1="234.0" y1="681.9" x2="234.0" y2="685.4"/><line x1="281.2" y1="935.0" x2="281.2" y2="938.5"/><line x1="281.2" y1="681.9" x2="281.2" y2="685.4"/><line x1="45.5" y1="901.8" x2="49.0" y2="901.8"/><line x1="324.8" y1="901.8" x2="328.3" y2="901.8"/><line x1="45.5" y1="865.2" x2="49.0" y2="865.2"/><line x1="324.8" y1="865.2" x2="328.3" y2="865.2"/><line x1="45.5" y1="828.5" x2="49.0" y2="828.5"/><line x1="324.8" y1="828.5" x2="328.3" y2="828.5"/><line x1="45.5" y1="791.9" x2="49.0" y2="791.9"/><line x1="324.8" y1="791.9" x2="328.3" y2="791.9"/><line x1="45.5" y1="755.2" x2="49.0" y2="755.2"/><line x1="324.8" y1="755.2" x2="328.3" y2="755.2"/><line x1="45.5" y1="718.6" x2="49.0" y2="718.6"/><line x1="324.8" y1="718.6" x2="328.3" y2="718.6"/></g>
<g transform="translate(44,680) scale(0.41752,0.41754)" fill="none" stroke-width="8.38" stroke-linejoin="round" stroke-linecap="round">
<polyline stroke="#bf00bf" points="5,575 100,570 215,560 240,420 270,250 300,100 320,50 340,42 360,50 400,70 440,82 470,75 490,60 510,65 540,75 568,85"/>
<polyline stroke="#bfbf00" points="10,521 41,506 77,480 112,472 168,475 214,478 245,420 275,250 300,120 320,65 345,58 380,70 420,85 450,90 470,85 500,75 540,85 568,90"/>
<polyline stroke="#bf00bf" points="300,540 340,480 370,320 400,200 430,120 470,95 520,90 568,98 625,92"/>
<polyline stroke="#bfbf00" points="300,520 340,450 380,300 410,180 440,130 480,110 530,100 568,105 625,105"/>
<polyline stroke="#404040" points="5,560 215,545 240,380 280,200 320,130 350,115 400,112 440,100 470,95 520,95 568,110"/>
<polyline stroke="#ff0000" points="5,565 220,560 250,420 280,300 310,180 340,145 370,140 400,150 440,150 470,155 500,150 530,160 568,185"/>
<polyline stroke="#ff0000" points="5,570 220,562 260,400 290,280 320,170 340,155 400,160 440,165 480,150 520,150 568,150"/>
<polyline stroke="#008000" points="5,572 220,560 260,380 290,230 320,150 350,135 400,150 440,160 480,160 520,170 568,175"/>
<polyline stroke="#404040" points="5,575 210,570 290,569 318,545 360,506 402,457 437,415 472,380 493,300 500,260 515,220 534,202 566,209"/>
<polyline stroke="#008000" points="300,500 340,440 380,330 420,260 460,220 500,209 534,216 566,223"/>
<polyline stroke="#0000ff" points="5,585 225,570 260,480 300,350 318,268 346,268 402,268 444,262 493,248 528,255 566,262 625,279"/>
<polyline stroke="#bfbf00" points="330,320 388,258 444,251 500,258 566,258 625,262"/>
<polyline stroke="#404040" points="310,330 360,290 402,276 451,268 500,268 566,279 625,265"/>
<polyline stroke="#ff0000" points="225,560 260,420 300,300 318,286 360,293 402,304 444,318 493,293 528,300 566,307 625,321"/>
<polyline stroke="#ff0000" points="230,560 270,420 300,320 318,296 366,307 416,318 451,325 500,311 566,318 625,321"/>
<polyline stroke="#bf00bf" points="230,560 270,440 300,340 318,307 374,328 430,331 472,314 507,317 566,324 625,338"/>
<polyline stroke="#0000ff" points="230,570 270,500 300,440 340,400 380,370 420,360 460,350 500,340 556,331 625,342"/>
<polyline stroke="#0000ff" points="235,575 270,480 311,352 346,352 402,352 451,345 500,335 556,331 625,345"/>
<polyline stroke="#00bfbf" points="5,530 40,480 80,460 120,455 170,460 215,462 241,457 297,436 318,415 346,408 402,415 430,422 458,387 500,338 534,331 625,350"/>
<polyline stroke="#008000" points="230,560 280,450 332,380 402,359 458,356 500,349 566,356 625,363"/>
<polyline stroke="#008000" points="240,570 290,480 340,420 400,395 460,380 520,385 568,395 625,405"/>
<polyline stroke="#ff0000" points="5,520 40,505 100,500 150,498 215,500 260,480 300,440 339,401 346,405 416,422 437,408 458,422 500,373 534,345 566,349 625,370"/>
<polyline stroke="#00bfbf" points="5,560 100,555 206,548 276,520 325,499 381,471 423,436 465,401 500,401 556,405 625,408"/>
<polyline stroke="#bf00bf" points="5,555 100,548 206,550 276,527 346,492 416,457 458,433 500,429 556,429 625,426"/>
<polyline stroke="#bfbf00" points="5,535 40,515 100,512 215,520 280,490 346,464 416,468 472,457 507,436 556,440 625,443"/>
<polyline stroke="#0000ff" points="5,580 100,585 215,585 280,500 346,485 402,485 451,489 486,471 521,461 556,454 625,461"/>
<polyline stroke="#404040" points="5,485 40,468 100,462 150,462 215,465 250,440 300,420 360,400 420,390 480,385 540,385 625,390"/>
<polyline stroke="#bfbf00" points="5,545 60,535 215,540 260,470 300,400 340,380 400,390 460,380 520,400 568,415 625,412"/>
<polyline stroke="#0000ff" points="5,545 60,540 215,540 260,500 300,470 360,440 420,420 480,390 540,360 625,330"/>
<polyline stroke="#ff0000" points="5,600 40,603 100,598 150,590 215,590 260,500 300,430 340,400 400,380 460,355 520,345 625,355"/>
<polyline stroke="#bf00bf" points="5,550 60,545 215,550 260,520 300,480 360,450 420,430 480,420 540,410 625,405"/>
<polyline stroke="#00bfbf" points="5,590 215,585 260,520 300,470 350,440 400,420 450,380 500,365 568,360 625,365"/>
<polyline stroke="#404040" points="5,590 215,585"/>
<polyline stroke="#008000" points="5,565 215,563 250,520"/>
</g>
<line x1="44.6" y1="681.9" x2="329.2" y2="681.9" stroke="#b0b0b0" stroke-width="1.8"/>
<line x1="44.6" y1="938.5" x2="329.2" y2="938.5" stroke="#787878" stroke-width="1.8"/>
<line x1="45.5" y1="681.9" x2="45.5" y2="938.5" stroke="#b0b0b0" stroke-width="1.8"/>
<line x1="328.3" y1="681.9" x2="328.3" y2="938.5" stroke="#999" stroke-width="1.8"/>
<g font-family="Liberation Sans" fill="#404048"><text x="40.1" y="942.5" font-size="11" textLength="3.6" lengthAdjust="spacingAndGlyphs">0</text><text x="30.9" y="905.8" font-size="11" textLength="12.8" lengthAdjust="spacingAndGlyphs">0.05</text><text x="34.5" y="869.1" font-size="11" textLength="9.2" lengthAdjust="spacingAndGlyphs">0.1</text><text x="30.9" y="832.5" font-size="11" textLength="12.8" lengthAdjust="spacingAndGlyphs">0.15</text><text x="34.5" y="795.8" font-size="11" textLength="9.2" lengthAdjust="spacingAndGlyphs">0.2</text><text x="30.9" y="759.2" font-size="11" textLength="12.8" lengthAdjust="spacingAndGlyphs">0.25</text><text x="34.5" y="722.5" font-size="11" textLength="9.2" lengthAdjust="spacingAndGlyphs">0.3</text><text x="30.9" y="685.9" font-size="11" textLength="12.8" lengthAdjust="spacingAndGlyphs">0.35</text><text x="42.9" y="951.5" font-size="10.5" textLength="3.6" lengthAdjust="spacingAndGlyphs">0</text><text x="88.2" y="951.5" font-size="10.5" textLength="7.2" lengthAdjust="spacingAndGlyphs">20</text><text x="135.4" y="951.5" font-size="10.5" textLength="7.2" lengthAdjust="spacingAndGlyphs">40</text><text x="182.5" y="951.5" font-size="10.5" textLength="7.2" lengthAdjust="spacingAndGlyphs">60</text><text x="229.6" y="951.5" font-size="10.5" textLength="7.2" lengthAdjust="spacingAndGlyphs">80</text><text x="275.0" y="951.5" font-size="10.5" textLength="10.8" lengthAdjust="spacingAndGlyphs">100</text><text x="322.1" y="951.5" font-size="10.5" textLength="10.8" lengthAdjust="spacingAndGlyphs">120</text></g>
<g stroke="#7a7a7a" stroke-width="1.5" stroke-dasharray="2 3"><line x1="426.8" y1="675.8" x2="426.8" y2="935.0"/><line x1="476.6" y1="675.8" x2="476.6" y2="935.0"/><line x1="526.5" y1="675.8" x2="526.5" y2="935.0"/><line x1="576.3" y1="675.8" x2="576.3" y2="935.0"/><line x1="626.1" y1="675.8" x2="626.1" y2="935.0"/></g>
<g stroke="#7a7a7a" stroke-width="1.5" stroke-dasharray="1.6 1.7"><line x1="376.9" y1="906.2" x2="676.0" y2="906.2"/><line x1="376.9" y1="877.4" x2="676.0" y2="877.4"/><line x1="376.9" y1="848.6" x2="676.0" y2="848.6"/><line x1="376.9" y1="819.8" x2="676.0" y2="819.8"/><line x1="376.9" y1="791.0" x2="676.0" y2="791.0"/><line x1="376.9" y1="762.2" x2="676.0" y2="762.2"/><line x1="376.9" y1="733.4" x2="676.0" y2="733.4"/><line x1="376.9" y1="704.6" x2="676.0" y2="704.6"/></g>
<g stroke="#666" stroke-width="1.4"><line x1="426.8" y1="931.5" x2="426.8" y2="935.0"/><line x1="426.8" y1="675.8" x2="426.8" y2="679.3"/><line x1="476.6" y1="931.5" x2="476.6" y2="935.0"/><line x1="476.6" y1="675.8" x2="476.6" y2="679.3"/><line x1="526.5" y1="931.5" x2="526.5" y2="935.0"/><line x1="526.5" y1="675.8" x2="526.5" y2="679.3"/><line x1="576.3" y1="931.5" x2="576.3" y2="935.0"/><line x1="576.3" y1="675.8" x2="576.3" y2="679.3"/><line x1="626.1" y1="931.5" x2="626.1" y2="935.0"/><line x1="626.1" y1="675.8" x2="626.1" y2="679.3"/><line x1="376.9" y1="906.2" x2="380.4" y2="906.2"/><line x1="672.5" y1="906.2" x2="676.0" y2="906.2"/><line x1="376.9" y1="877.4" x2="380.4" y2="877.4"/><line x1="672.5" y1="877.4" x2="676.0" y2="877.4"/><line x1="376.9" y1="848.6" x2="380.4" y2="848.6"/><line x1="672.5" y1="848.6" x2="676.0" y2="848.6"/><line x1="376.9" y1="819.8" x2="380.4" y2="819.8"/><line x1="672.5" y1="819.8" x2="676.0" y2="819.8"/><line x1="376.9" y1="791.0" x2="380.4" y2="791.0"/><line x1="672.5" y1="791.0" x2="676.0" y2="791.0"/><line x1="376.9" y1="762.2" x2="380.4" y2="762.2"/><line x1="672.5" y1="762.2" x2="676.0" y2="762.2"/><line x1="376.9" y1="733.4" x2="380.4" y2="733.4"/><line x1="672.5" y1="733.4" x2="676.0" y2="733.4"/><line x1="376.9" y1="704.6" x2="380.4" y2="704.6"/><line x1="672.5" y1="704.6" x2="676.0" y2="704.6"/></g>
<g transform="translate(376,675) scale(0.43942,0.43939)" fill="none" stroke-width="7.97" stroke-linejoin="round" stroke-linecap="round">
<polyline stroke="#ff0000" points="2.0,535.0 9.9,535.0 17.8,535.0 25.7,535.0 33.6,535.0 41.5,535.0 49.4,535.0 57.3,535.0 65.2,535.0 73.1,535.0 81.0,535.0 88.9,535.0 96.8,535.0 104.7,535.0 112.6,535.0 120.5,535.0 128.4,535.0 136.3,535.0 144.2,535.0 152.1,535.0 160.0,535.0 167.9,535.0 175.8,535.0 183.7,534.9 191.6,534.6 199.5,532.9 207.4,524.1 215.4,494.5 223.3,443.1 231.2,388.6 239.1,339.7 247.0,297.6 254.9,261.4 262.8,230.4 270.7,203.8 278.6,181.0 286.5,161.5 294.4,144.8 302.3,130.5 310.2,118.3 318.1,107.8 326.0,98.8 333.9,91.1 341.8,84.5 349.7,78.8 357.6,74.0 365.5,69.8 373.4,66.2 381.3,63.2 389.2,60.6 397.1,58.4 405.0,56.4 412.9,54.8 420.8,53.4 428.7,52.4 436.6,53.0 444.5,53.7 452.4,54.5 460.3,55.5 468.2,56.5 476.1,57.6 484.0,58.8 491.9,60.0 499.8,61.3 507.7,62.7 515.6,64.0 523.5,65.4 531.4,66.9 539.3,68.3 547.2,69.8 555.1,71.3 563.0,72.8 570.9,74.3 578.8,75.8 586.7,77.4 594.6,78.9 602.5,80.5 610.4,82.0 618.3,83.6 626.2,85.2"/>
<polyline stroke="#ff0000" points="2.0,540.0 9.9,540.0 17.8,540.0 25.7,540.0 33.6,540.0 41.5,540.0 49.4,540.0 57.3,540.0 65.2,540.0 73.1,540.0 81.0,540.0 88.9,540.0 96.8,540.0 104.7,540.0 112.6,540.0 120.5,540.0 128.4,540.0 136.3,540.0 144.2,540.0 152.1,540.0 160.0,540.0 167.9,540.0 175.8,540.0 183.7,539.9 191.6,539.6 199.5,537.9 207.4,529.3 215.4,500.1 223.3,449.4 231.2,395.7 239.1,347.5 247.0,305.9 254.9,270.3 262.8,239.7 270.7,213.5 278.6,191.1 286.5,171.9 294.4,155.4 302.3,141.3 310.2,129.2 318.1,118.9 326.0,110.0 333.9,102.4 341.8,95.9 349.7,90.3 357.6,85.5 365.5,81.4 373.4,77.9 381.3,74.9 389.2,72.4 397.1,70.2 405.0,68.3 412.9,66.7 420.8,65.3 428.7,64.3 436.6,64.9 444.5,65.7 452.4,66.6 460.3,67.6 468.2,68.6 476.1,69.8 484.0,71.0 491.9,72.3 499.8,73.7 507.7,75.0 515.6,76.5 523.5,77.9 531.4,79.4 539.3,80.9 547.2,82.4 555.1,83.9 563.0,85.5 570.9,87.0 578.8,88.6 586.7,90.2 594.6,91.8 602.5,93.3 610.4,94.9 618.3,96.5 626.2,98.1"/>
<polyline stroke="#ff0000" points="2.0,538.0 9.9,538.0 17.8,538.0 25.7,538.0 33.6,538.0 41.5,538.0 49.4,538.0 57.3,538.0 65.2,538.0 73.1,538.0 81.0,538.0 88.9,538.0 96.8,538.0 104.7,538.0 112.6,538.0 120.5,538.0 128.4,538.0 136.3,538.0 144.2,538.0 152.1,538.0 160.0,538.0 167.9,538.0 175.8,538.0 183.7,537.9 191.6,537.6 199.5,535.9 207.4,527.5 215.4,498.9 223.3,449.3 231.2,396.7 239.1,349.5 247.0,308.8 254.9,273.9 262.8,243.9 270.7,218.3 278.6,196.3 286.5,177.5 294.4,161.4 302.3,147.5 310.2,135.7 318.1,125.6 326.0,116.9 333.9,109.5 341.8,103.1 349.7,97.6 357.6,92.9 365.5,88.9 373.4,85.5 381.3,82.6 389.2,80.1 397.1,77.9 405.0,76.0 412.9,74.5 420.8,73.1 428.7,72.2 436.6,72.8 444.5,73.5 452.4,74.4 460.3,75.3 468.2,76.4 476.1,77.5 484.0,78.7 491.9,80.0 499.8,81.3 507.7,82.6 515.6,84.0 523.5,85.4 531.4,86.8 539.3,88.3 547.2,89.8 555.1,91.3 563.0,92.8 570.9,94.3 578.8,95.8 586.7,97.4 594.6,98.9 602.5,100.5 610.4,102.0 618.3,103.6 626.2,105.1"/>
<polyline stroke="#ff0000" points="2.0,542.0 9.9,542.0 17.8,542.0 25.7,542.0 33.6,542.0 41.5,542.0 49.4,542.0 57.3,542.0 65.2,542.0 73.1,542.0 81.0,542.0 88.9,542.0 96.8,542.0 104.7,542.0 112.6,542.0 120.5,542.0 128.4,542.0 136.3,542.0 144.2,542.0 152.1,542.0 160.0,542.0 167.9,542.0 175.8,542.0 183.7,541.9 191.6,541.7 199.5,540.2 207.4,532.6 215.4,507.0 223.3,462.1 231.2,413.7 239.1,369.8 247.0,331.3 254.9,297.7 262.8,268.5 270.7,243.1 278.6,221.0 286.5,201.8 294.4,185.0 302.3,170.5 310.2,157.8 318.1,146.8 326.0,137.2 333.9,128.8 341.8,121.6 349.7,115.3 357.6,109.8 365.5,105.0 373.4,100.8 381.3,97.2 389.2,94.1 397.1,91.3 405.0,88.9 412.9,86.9 420.8,85.1 428.7,83.7 436.6,84.2 444.5,84.8 452.4,85.5 460.3,86.4 468.2,87.4 476.1,88.5 484.0,89.7 491.9,91.0 499.8,92.4 507.7,93.8 515.6,95.2 523.5,96.7 531.4,98.2 539.3,99.8 547.2,101.4 555.1,103.0 563.0,104.7 570.9,106.3 578.8,108.0 586.7,109.7 594.6,111.4 602.5,113.1 610.4,114.8 618.3,116.6 626.2,118.3"/>
<polyline stroke="#008000" points="2.0,545.0 9.9,545.0 17.8,545.0 25.7,545.0 33.6,545.0 41.5,545.0 49.4,545.0 57.3,545.0 65.2,545.0 73.1,545.0 81.0,545.0 88.9,545.0 96.8,545.0 104.7,545.0 112.6,545.0 120.5,545.0 128.4,545.0 136.3,545.0 144.2,545.0 152.1,545.0 160.0,545.0 167.9,545.0 175.8,545.0 183.7,544.9 191.6,544.7 199.5,543.2 207.4,535.8 215.4,510.6 223.3,466.4 231.2,418.9 239.1,375.8 247.0,337.9 254.9,304.9 262.8,276.2 270.7,251.2 278.6,229.5 286.5,210.6 294.4,194.1 302.3,179.8 310.2,167.3 318.1,156.5 326.0,147.1 333.9,138.9 341.8,131.8 349.7,125.5 357.6,120.1 365.5,115.4 373.4,111.4 381.3,107.8 389.2,104.7 397.1,102.0 405.0,99.7 412.9,97.6 420.8,95.9 428.7,94.5 436.6,94.4 444.5,94.5 452.4,94.8 460.3,95.2 468.2,95.7 476.1,96.3 484.0,97.0 491.9,97.7 499.8,98.6 507.7,99.5 515.6,100.4 523.5,101.4 531.4,102.4 539.3,103.5 547.2,104.5 555.1,105.7 563.0,106.8 570.9,107.9 578.8,109.1 586.7,110.3 594.6,111.5 602.5,112.7 610.4,113.9 618.3,115.1 626.2,116.3"/>
<polyline stroke="#404040" points="2.0,550.0 9.9,550.0 17.8,550.0 25.7,550.0 33.6,550.0 41.5,550.0 49.4,550.0 57.3,550.0 65.2,550.0 73.1,550.0 81.0,550.0 88.9,550.0 96.8,550.0 104.7,550.0 112.6,550.0 120.5,550.0 128.4,550.0 136.3,550.0 144.2,550.0 152.1,550.0 160.0,550.0 167.9,550.0 175.8,550.0 183.7,549.9 191.6,549.7 199.5,548.2 207.4,540.8 215.4,515.8 223.3,471.9 231.2,424.8 239.1,381.9 247.0,344.2 254.9,311.5 262.8,282.9 270.7,258.1 278.6,236.5 286.5,217.7 294.4,201.4 302.3,187.2 310.2,174.8 318.1,164.0 326.0,154.7 333.9,146.5 341.8,139.4 349.7,133.3 357.6,127.9 365.5,123.2 373.4,119.2 381.3,115.6 389.2,112.6 397.1,109.9 405.0,107.6 412.9,105.5 420.8,103.8 428.7,102.5 436.6,102.6 444.5,103.0 452.4,103.5 460.3,104.1 468.2,104.9 476.1,105.7 484.0,106.7 491.9,107.7 499.8,108.7 507.7,109.9 515.6,111.1 523.5,112.3 531.4,113.5 539.3,114.8 547.2,116.2 555.1,117.5 563.0,118.9 570.9,120.3 578.8,121.7 586.7,123.1 594.6,124.5 602.5,125.9 610.4,127.4 618.3,128.9 626.2,130.3"/>
<polyline stroke="#008000" points="2.0,545.0 9.9,545.0 17.8,545.0 25.7,545.0 33.6,545.0 41.5,545.0 49.4,545.0 57.3,545.0 65.2,545.0 73.1,545.0 81.0,545.0 88.9,545.0 96.8,545.0 104.7,545.0 112.6,545.0 120.5,545.0 128.4,545.0 136.3,545.0 144.2,545.0 152.1,545.0 160.0,545.0 167.9,545.0 175.8,545.0 183.7,544.9 191.6,544.7 199.5,543.3 207.4,536.2 215.4,512.0 223.3,469.7 231.2,424.1 239.1,382.7 247.0,346.4 254.9,314.8 262.8,287.3 270.7,263.3 278.6,242.5 286.5,224.3 294.4,208.6 302.3,194.9 310.2,182.9 318.1,172.5 326.0,163.5 333.9,155.6 341.8,148.8 349.7,142.8 357.6,137.7 365.5,133.2 373.4,129.2 381.3,125.8 389.2,122.9 397.1,120.3 405.0,118.0 412.9,116.1 420.8,114.4 428.7,113.0 436.6,112.7 444.5,112.6 452.4,112.6 460.3,112.8 468.2,113.0 476.1,113.4 484.0,113.8 491.9,114.3 499.8,114.9 507.7,115.5 515.6,116.2 523.5,116.9 531.4,117.7 539.3,118.5 547.2,119.3 555.1,120.1 563.0,121.0 570.9,121.8 578.8,122.7 586.7,123.6 594.6,124.6 602.5,125.5 610.4,126.4 618.3,127.4 626.2,128.3"/>
<polyline stroke="#404040" points="2.0,550.0 9.9,550.0 17.8,550.0 25.7,550.0 33.6,550.0 41.5,550.0 49.4,550.0 57.3,550.0 65.2,550.0 73.1,550.0 81.0,550.0 88.9,550.0 96.8,550.0 104.7,550.0 112.6,550.0 120.5,550.0 128.4,550.0 136.3,550.0 144.2,550.0 152.1,550.0 160.0,550.0 167.9,550.0 175.8,550.0 183.7,549.9 191.6,549.7 199.5,548.3 207.4,541.2 215.4,517.2 223.3,475.2 231.2,430.0 239.1,388.8 247.0,352.8 254.9,321.4 262.8,294.0 270.7,270.2 278.6,249.5 286.5,231.5 294.4,215.9 302.3,202.2 310.2,190.4 318.1,180.1 326.0,171.1 333.9,163.3 341.8,156.5 349.7,150.6 357.6,145.4 365.5,140.9 373.4,137.1 381.3,133.7 389.2,130.7 397.1,128.2 405.0,125.9 412.9,124.0 420.8,122.3 428.7,121.0 436.6,120.9 444.5,120.9 452.4,121.1 460.3,121.4 468.2,121.8 476.1,122.3 484.0,122.9 491.9,123.6 499.8,124.3 507.7,125.1 515.6,126.0 523.5,126.9 531.4,127.8 539.3,128.7 547.2,129.7 555.1,130.7 563.0,131.7 570.9,132.7 578.8,133.8 586.7,134.8 594.6,135.9 602.5,137.0 610.4,138.1 618.3,139.2 626.2,140.3"/>
<polyline stroke="#404040" points="2.0,530.0 9.9,530.0 17.8,530.0 25.7,529.9 33.6,529.8 41.5,529.6 49.4,529.2 57.3,528.5 65.2,527.3 73.1,525.4 81.0,522.8 88.9,519.7 96.8,516.3 104.7,513.2 112.6,510.9 120.5,510.0 128.4,511.0 136.3,512.1 144.2,513.3 152.1,514.4 160.0,515.5 167.9,516.6 175.8,517.7 183.7,518.0 191.6,517.8 199.5,516.6 207.4,511.1 215.4,492.2 223.3,459.0 231.2,423.4 239.1,391.0 247.0,362.6 254.9,337.8 262.8,316.2 270.7,297.5 278.6,281.2 286.5,267.0 294.4,254.6 302.3,243.9 310.2,234.6 318.1,226.4 326.0,219.4 333.9,213.2 341.8,207.8 349.7,203.2 357.6,199.1 365.5,195.6 373.4,192.5 381.3,189.9 389.2,187.5 397.1,185.5 405.0,184.5 412.9,183.9 420.8,183.6 428.7,183.4 436.6,183.3 444.5,183.4 452.4,183.7 460.3,184.0 468.2,184.4 476.1,184.8 484.0,185.4 491.9,186.0 499.8,186.6 507.7,187.3 515.6,188.0 523.5,188.8 531.4,189.6 539.3,190.4 547.2,191.2 555.1,192.1 563.0,192.9 570.9,193.8 578.8,194.7 586.7,195.6 594.6,196.5 602.5,197.4 610.4,198.4 618.3,199.3 626.2,200.2"/>
<polyline stroke="#404040" points="2.0,540.0 9.9,540.0 17.8,540.0 25.7,540.0 33.6,540.0 41.5,540.0 49.4,540.0 57.3,540.0 65.2,540.0 73.1,540.0 81.0,540.0 88.9,540.0 96.8,540.0 104.7,540.0 112.6,540.0 120.5,540.0 128.4,540.0 136.3,540.0 144.2,540.0 152.1,540.0 160.0,540.0 167.9,540.0 175.8,540.0 183.7,540.0 191.6,539.8 199.5,538.6 207.4,533.0 215.4,513.9 223.3,480.3 231.2,444.3 239.1,411.5 247.0,382.8 254.9,357.7 262.8,335.9 270.7,316.9 278.6,300.4 286.5,286.1 294.4,273.6 302.3,262.7 310.2,253.3 318.1,245.1 326.0,237.9 333.9,231.7 341.8,226.3 349.7,221.5 357.6,217.4 365.5,213.9 373.4,210.8 381.3,208.1 389.2,205.7 397.1,203.7 405.0,202.5 412.9,201.7 420.8,201.1 428.7,200.7 436.6,200.4 444.5,200.3 452.4,200.3 460.3,200.4 468.2,200.6 476.1,200.8 484.0,201.2 491.9,201.6 499.8,202.0 507.7,202.5 515.6,203.0 523.5,203.5 531.4,204.1 539.3,204.7 547.2,205.3 555.1,206.0 563.0,206.6 570.9,207.3 578.8,208.0 586.7,208.7 594.6,209.4 602.5,210.1 610.4,210.8 618.3,211.5 626.2,212.2"/>
<polyline stroke="#bfbf00" points="2.0,545.0 9.9,545.0 17.8,545.0 25.7,545.0 33.6,545.0 41.5,545.0 49.4,545.0 57.3,545.0 65.2,545.0 73.1,545.0 81.0,545.0 88.9,545.0 96.8,545.0 104.7,545.0 112.6,545.0 120.5,545.0 128.4,545.0 136.3,545.0 144.2,545.0 152.1,545.0 160.0,545.0 167.9,545.0 175.8,545.0 183.7,545.0 191.6,544.8 199.5,543.7 207.4,538.2 215.4,519.5 223.3,486.7 231.2,451.5 239.1,419.4 247.0,391.4 254.9,366.9 262.8,345.6 270.7,327.0 278.6,310.9 286.5,296.9 294.4,284.7 302.3,274.1 310.2,264.8 318.1,256.8 326.0,249.8 333.9,243.7 341.8,238.4 349.7,233.8 357.6,229.8 365.5,226.3 373.4,223.3 381.3,220.7 389.2,218.4 397.1,216.4 405.0,215.1 412.9,214.1 420.8,213.4 428.7,212.9 436.6,212.5 444.5,212.2 452.4,212.0 460.3,212.0 468.2,212.0 476.1,212.1 484.0,212.2 491.9,212.5 499.8,212.7 507.7,213.0 515.6,213.4 523.5,213.7 531.4,214.2 539.3,214.6 547.2,215.0 555.1,215.5 563.0,216.0 570.9,216.5 578.8,217.0 586.7,217.5 594.6,218.0 602.5,218.6 610.4,219.1 618.3,219.7 626.2,220.2"/>
<polyline stroke="#bfbf00" points="2.0,550.0 9.9,550.0 17.8,550.0 25.7,550.0 33.6,550.0 41.5,550.0 49.4,550.0 57.3,550.0 65.2,550.0 73.1,550.0 81.0,550.0 88.9,550.0 96.8,550.0 104.7,550.0 112.6,550.0 120.5,550.0 128.4,550.0 136.3,550.0 144.2,550.0 152.1,550.0 160.0,550.0 167.9,550.0 175.8,550.0 183.7,550.0 191.6,549.8 199.5,548.7 207.4,543.4 215.4,525.4 223.3,493.8 231.2,459.8 239.1,428.8 247.0,401.7 254.9,378.1 262.8,357.6 270.7,339.7 278.6,324.1 286.5,310.6 294.4,298.8 302.3,288.6 310.2,279.7 318.1,271.9 326.0,265.2 333.9,259.3 341.8,254.2 349.7,249.7 357.6,245.9 365.5,242.5 373.4,239.6 381.3,237.0 389.2,234.8 397.1,232.9 405.0,231.7 412.9,231.0 420.8,230.4 428.7,230.0 436.6,229.7 444.5,229.6 452.4,229.6 460.3,229.6 468.2,229.8 476.1,230.0 484.0,230.3 491.9,230.6 499.8,231.0 507.7,231.4 515.6,231.9 523.5,232.3 531.4,232.9 539.3,233.4 547.2,234.0 555.1,234.5 563.0,235.1 570.9,235.7 578.8,236.3 586.7,237.0 594.6,237.6 602.5,238.3 610.4,238.9 618.3,239.6 626.2,240.2"/>
<polyline stroke="#404040" points="2.0,555.0 9.9,555.0 17.8,555.0 25.7,555.0 33.6,555.0 41.5,555.0 49.4,555.0 57.3,555.0 65.2,555.0 73.1,555.0 81.0,555.0 88.9,555.0 96.8,555.0 104.7,555.0 112.6,555.0 120.5,555.0 128.4,555.0 136.3,555.0 144.2,555.0 152.1,555.0 160.0,555.0 167.9,555.0 175.8,555.0 183.7,554.9 191.6,554.6 199.5,552.9 207.4,544.2 215.4,515.6 223.3,468.0 231.2,420.8 239.1,381.6 247.0,350.3 254.9,325.4 262.8,305.6 270.7,290.0 278.6,277.5 286.5,267.7 294.4,259.9 302.3,253.7 310.2,248.8 318.1,245.6 326.0,244.1 333.9,243.1 341.8,242.7 349.7,242.6 357.6,242.9 365.5,243.4 373.4,244.1 381.3,245.0 389.2,246.0 397.1,247.1 405.0,248.3 412.9,249.6 420.8,250.9 428.7,252.2 436.6,253.6 444.5,255.0 452.4,256.4 460.3,257.9 468.2,259.3 476.1,260.8 484.0,262.2 491.9,263.7 499.8,265.2 507.7,266.7 515.6,268.1 523.5,269.6 531.4,271.1 539.3,272.6 547.2,274.1 555.1,275.6 563.0,277.1 570.9,278.6 578.8,280.0 586.7,281.5 594.6,283.0 602.5,284.5 610.4,286.0 618.3,287.5 626.2,289.0"/>
<polyline stroke="#00bfbf" points="2.0,560.0 9.9,560.0 17.8,560.0 25.7,560.0 33.6,560.0 41.5,560.0 49.4,560.0 57.3,560.0 65.2,560.0 73.1,560.0 81.0,560.0 88.9,560.0 96.8,560.0 104.7,560.0 112.6,560.0 120.5,560.0 128.4,560.0 136.3,560.0 144.2,560.0 152.1,560.0 160.0,560.0 167.9,560.0 175.8,560.0 183.7,559.9 191.6,559.7 199.5,558.1 207.4,550.4 215.4,524.7 223.3,482.1 231.2,439.9 239.1,404.8 247.0,376.7 254.9,354.4 262.8,336.7 270.7,322.7 278.6,311.6 286.5,302.7 294.4,295.8 302.3,290.2 310.2,285.8 318.1,282.3 326.0,279.6 333.9,278.3 341.8,277.4 349.7,276.9 357.6,276.7 365.5,276.7 373.4,276.9 381.3,277.2 389.2,277.6 397.1,278.2 405.0,278.8 412.9,279.4 420.8,280.1 428.7,280.8 436.6,281.6 444.5,282.4 452.4,283.2 460.3,284.0 468.2,284.8 476.1,285.7 484.0,286.5 491.9,287.3 499.8,288.2 507.7,289.0 515.6,289.9 523.5,290.8 531.4,291.6 539.3,292.5 547.2,293.3 555.1,294.2 563.0,295.1 570.9,295.9 578.8,296.8 586.7,297.7 594.6,298.5 602.5,299.4 610.4,300.3 618.3,301.1 626.2,302.0"/>
<polyline stroke="#008000" points="2.0,550.0 9.9,550.0 17.8,550.0 25.7,550.0 33.6,550.0 41.5,550.0 49.4,550.0 57.3,550.0 65.2,550.0 73.1,550.0 81.0,550.0 88.9,550.0 96.8,550.0 104.7,550.0 112.6,550.0 120.5,550.0 128.4,550.0 136.3,550.0 144.2,550.0 152.1,550.0 160.0,550.0 167.9,550.0 175.8,550.0 183.7,549.9 191.6,549.7 199.5,548.2 207.4,540.9 215.4,516.6 223.3,476.4 231.2,436.5 239.1,403.3 247.0,376.8 254.9,355.7 262.8,339.0 270.7,325.7 278.6,315.2 286.5,306.9 294.4,300.3 302.3,295.0 310.2,290.9 318.1,287.6 326.0,285.0 333.9,283.8 341.8,282.9 349.7,282.4 357.6,282.2 365.5,282.1 373.4,282.3 381.3,282.5 389.2,282.9 397.1,283.4 405.0,283.9 412.9,284.5 420.8,285.1 428.7,285.8 436.6,286.5 444.5,287.2 452.4,287.9 460.3,288.6 468.2,289.4 476.1,290.1 484.0,290.9 491.9,291.7 499.8,292.5 507.7,293.2 515.6,294.0 523.5,294.8 531.4,295.6 539.3,296.3 547.2,297.1 555.1,297.9 563.0,298.7 570.9,299.5 578.8,300.3 586.7,301.1 594.6,301.9 602.5,302.6 610.4,303.4 618.3,304.2 626.2,305.0"/>
<polyline stroke="#bf00bf" points="2.0,525.0 9.9,525.0 17.8,525.0 25.7,524.9 33.6,524.8 41.5,524.6 49.4,524.0 57.3,523.1 65.2,521.6 73.1,519.2 81.0,516.0 88.9,512.1 96.8,507.8 104.7,503.9 112.6,501.1 120.5,500.0 128.4,501.3 136.3,502.7 144.2,504.1 152.1,505.5 160.0,506.8 167.9,508.2 175.8,509.6 183.7,510.0 191.6,509.7 199.5,508.5 207.4,502.4 215.4,482.3 223.3,449.0 231.2,415.9 239.1,388.4 247.0,366.4 254.9,348.9 262.8,335.0 270.7,324.1 278.6,315.3 286.5,308.4 294.4,303.0 302.3,298.6 310.2,295.2 318.1,292.5 326.0,290.3 333.9,289.4 341.8,288.8 349.7,288.5 357.6,288.5 365.5,288.6 373.4,288.8 381.3,289.2 389.2,289.6 397.1,290.2 405.0,290.7 412.9,291.4 420.8,292.0 428.7,292.7 436.6,293.4 444.5,294.1 452.4,294.9 460.3,295.6 468.2,296.4 476.1,297.1 484.0,297.9 491.9,298.7 499.8,299.4 507.7,300.2 515.6,301.0 523.5,301.8 531.4,302.6 539.3,303.3 547.2,304.1 555.1,304.9 563.0,305.7 570.9,306.5 578.8,307.3 586.7,308.1 594.6,308.9 602.5,309.6 610.4,310.4 618.3,311.2 626.2,312.0"/>
<polyline stroke="#bf00bf" points="2.0,550.0 9.9,550.0 17.8,550.0 25.7,550.0 33.6,550.0 41.5,550.0 49.4,550.0 57.3,550.0 65.2,550.0 73.1,550.0 81.0,550.0 88.9,550.0 96.8,550.0 104.7,550.0 112.6,550.0 120.5,550.0 128.4,550.0 136.3,550.0 144.2,550.0 152.1,550.0 160.0,550.0 167.9,550.0 175.8,550.0 183.7,549.9 191.6,549.7 199.5,548.3 207.4,541.4 215.4,518.3 223.3,480.2 231.2,442.3 239.1,410.8 247.0,385.6 254.9,365.6 262.8,349.7 270.7,337.1 278.6,327.2 286.5,319.3 294.4,313.0 302.3,308.0 310.2,304.1 318.1,301.0 326.0,298.6 333.9,297.7 341.8,297.3 349.7,297.2 357.6,297.3 365.5,297.7 373.4,298.2 381.3,298.8 389.2,299.6 397.1,300.4 405.0,301.3 412.9,302.2 420.8,303.2 428.7,304.2 436.6,305.3 444.5,306.3 452.4,307.4 460.3,308.5 468.2,309.6 476.1,310.7 484.0,311.8 491.9,312.9 499.8,314.0 507.7,315.1 515.6,316.2 523.5,317.3 531.4,318.5 539.3,319.6 547.2,320.7 555.1,321.8 563.0,323.0 570.9,324.1 578.8,325.2 586.7,326.4 594.6,327.5 602.5,328.6 610.4,329.7 618.3,330.9 626.2,332.0"/>
<polyline stroke="#0000ff" points="2.0,560.0 9.9,560.0 17.8,560.0 25.7,560.0 33.6,560.0 41.5,560.0 49.4,560.0 57.3,560.0 65.2,560.0 73.1,560.0 81.0,560.0 88.9,560.0 96.8,560.0 104.7,560.0 112.6,560.0 120.5,560.0 128.4,560.0 136.3,560.0 144.2,560.0 152.1,560.0 160.0,560.0 167.9,560.0 175.8,560.0 183.7,559.9 191.6,559.7 199.5,558.3 207.4,551.4 215.4,528.3 223.3,490.2 231.2,452.3 239.1,420.8 247.0,395.6 254.9,375.6 262.8,359.7 270.7,347.1 278.6,337.2 286.5,329.3 294.4,323.0 302.3,318.0 310.2,314.1 318.1,311.0 326.0,308.6 333.9,307.7 341.8,307.2 349.7,307.0 357.6,307.1 365.5,307.4 373.4,307.9 381.3,308.5 389.2,309.2 397.1,309.9 405.0,310.8 412.9,311.7 420.8,312.6 428.7,313.5 436.6,314.5 444.5,315.5 452.4,316.5 460.3,317.6 468.2,318.6 476.1,319.6 484.0,320.7 491.9,321.8 499.8,322.8 507.7,323.9 515.6,325.0 523.5,326.0 531.4,327.1 539.3,328.2 547.2,329.2 555.1,330.3 563.0,331.4 570.9,332.5 578.8,333.5 586.7,334.6 594.6,335.7 602.5,336.8 610.4,337.8 618.3,338.9 626.2,340.0"/>
<polyline stroke="#bf00bf" points="2.0,540.0 9.9,540.0 17.8,540.0 25.7,540.0 33.6,540.0 41.5,540.0 49.4,540.0 57.3,540.0 65.2,540.0 73.1,540.0 81.0,540.0 88.9,540.0 96.8,540.0 104.7,540.0 112.6,540.0 120.5,540.0 128.4,540.0 136.3,540.0 144.2,540.0 152.1,540.0 160.0,540.0 167.9,540.0 175.8,540.0 183.7,540.0 191.6,539.7 199.5,538.5 207.4,532.2 215.4,511.5 223.3,477.1 231.2,443.0 239.1,414.6 247.0,392.0 254.9,374.0 262.8,359.7 270.7,348.3 278.6,339.4 286.5,332.3 294.4,326.6 302.3,322.1 310.2,318.6 318.1,315.8 326.0,313.6 333.9,312.9 341.8,312.5 349.7,312.5 357.6,312.6 365.5,313.0 373.4,313.5 381.3,314.1 389.2,314.8 397.1,315.6 405.0,316.4 412.9,317.3 420.8,318.2 428.7,319.1 436.6,320.1 444.5,321.1 452.4,322.1 460.3,323.1 468.2,324.1 476.1,325.1 484.0,326.2 491.9,327.2 499.8,328.2 507.7,329.3 515.6,330.3 523.5,331.4 531.4,332.4 539.3,333.5 547.2,334.5 555.1,335.6 563.0,336.6 570.9,337.7 578.8,338.7 586.7,339.7 594.6,340.8 602.5,341.8 610.4,342.9 618.3,344.0 626.2,345.0"/>
<polyline stroke="#00bfbf" points="2.0,555.0 9.9,555.0 17.8,555.0 25.7,555.0 33.6,555.0 41.5,555.0 49.4,555.0 57.3,555.0 65.2,555.0 73.1,555.0 81.0,555.0 88.9,555.0 96.8,555.0 104.7,555.0 112.6,555.0 120.5,555.0 128.4,555.0 136.3,555.0 144.2,555.0 152.1,555.0 160.0,555.0 167.9,555.0 175.8,555.0 183.7,554.9 191.6,554.7 199.5,553.4 207.4,547.0 215.4,525.5 223.3,490.0 231.2,454.7 239.1,425.4 247.0,401.9 254.9,383.3 262.8,368.5 270.7,356.8 278.6,347.5 286.5,340.2 294.4,334.3 302.3,329.7 310.2,326.0 318.1,323.1 326.0,320.9 333.9,320.2 341.8,319.9 349.7,319.9 357.6,320.1 365.5,320.5 373.4,321.0 381.3,321.7 389.2,322.5 397.1,323.3 405.0,324.2 412.9,325.2 420.8,326.2 428.7,327.2 436.6,328.2 444.5,329.3 452.4,330.4 460.3,331.4 468.2,332.5 476.1,333.6 484.0,334.8 491.9,335.9 499.8,337.0 507.7,338.1 515.6,339.2 523.5,340.3 531.4,341.5 539.3,342.6 547.2,343.7 555.1,344.8 563.0,346.0 570.9,347.1 578.8,348.2 586.7,349.4 594.6,350.5 602.5,351.6 610.4,352.7 618.3,353.9 626.2,355.0"/>
<polyline stroke="#ff0000" points="2.0,545.0 9.9,545.0 17.8,545.0 25.7,545.0 33.6,545.0 41.5,545.0 49.4,545.0 57.3,545.0 65.2,545.0 73.1,545.0 81.0,545.0 88.9,545.0 96.8,545.0 104.7,545.0 112.6,545.0 120.5,545.0 128.4,545.0 136.3,545.0 144.2,545.0 152.1,545.0 160.0,545.0 167.9,545.0 175.8,545.0 183.7,545.0 191.6,544.7 199.5,543.5 207.4,537.5 215.4,517.6 223.3,484.5 231.2,451.7 239.1,424.4 247.0,402.6 254.9,385.3 262.8,371.6 270.7,360.7 278.6,352.1 286.5,345.2 294.4,339.8 302.3,335.5 310.2,332.1 318.1,329.4 326.0,327.3 333.9,326.7 341.8,326.5 349.7,326.6 357.6,326.8 365.5,327.3 373.4,327.9 381.3,328.6 389.2,329.4 397.1,330.3 405.0,331.2 412.9,332.1 420.8,333.1 428.7,334.2 436.6,335.2 444.5,336.3 452.4,337.3 460.3,338.4 468.2,339.5 476.1,340.6 484.0,341.7 491.9,342.9 499.8,344.0 507.7,345.1 515.6,346.2 523.5,347.3 531.4,348.5 539.3,349.6 547.2,350.7 555.1,351.8 563.0,353.0 570.9,354.1 578.8,355.2 586.7,356.4 594.6,357.5 602.5,358.6 610.4,359.7 618.3,360.9 626.2,362.0"/>
<polyline stroke="#bf00bf" points="2.0,545.0 9.9,545.0 17.8,545.0 25.7,545.0 33.6,545.0 41.5,545.0 49.4,545.0 57.3,545.0 65.2,545.0 73.1,545.0 81.0,545.0 88.9,545.0 96.8,545.0 104.7,545.0 112.6,545.0 120.5,545.0 128.4,545.0 136.3,545.0 144.2,545.0 152.1,545.0 160.0,545.0 167.9,545.0 175.8,545.0 183.7,545.0 191.6,544.7 199.5,543.6 207.4,537.7 215.4,518.3 223.3,486.1 231.2,454.2 239.1,427.6 247.0,406.4 254.9,389.6 262.8,376.2 270.7,365.6 278.6,357.2 286.5,350.5 294.4,345.2 302.3,341.0 310.2,337.7 318.1,335.1 326.0,333.1 333.9,332.5 341.8,332.2 349.7,332.2 357.6,332.4 365.5,332.8 373.4,333.4 381.3,334.0 389.2,334.7 397.1,335.5 405.0,336.4 412.9,337.2 420.8,338.2 428.7,339.1 436.6,340.1 444.5,341.1 452.4,342.1 460.3,343.1 468.2,344.1 476.1,345.1 484.0,346.2 491.9,347.2 499.8,348.2 507.7,349.3 515.6,350.3 523.5,351.4 531.4,352.4 539.3,353.5 547.2,354.5 555.1,355.6 563.0,356.6 570.9,357.6 578.8,358.7 586.7,359.7 594.6,360.8 602.5,361.8 610.4,362.9 618.3,364.0 626.2,365.0"/>
<polyline stroke="#00bfbf" points="2.0,560.0 9.9,560.0 17.8,560.0 25.7,560.0 33.6,560.0 41.5,560.0 49.4,560.0 57.3,560.0 65.2,560.0 73.1,560.0 81.0,560.0 88.9,560.0 96.8,560.0 104.7,560.0 112.6,560.0 120.5,560.0 128.4,560.0 136.3,560.0 144.2,560.0 152.1,560.0 160.0,560.0 167.9,560.0 175.8,560.0 183.7,560.0 191.6,559.7 199.5,558.5 207.4,552.4 215.4,532.3 223.3,499.0 231.2,465.9 239.1,438.4 247.0,416.4 254.9,398.9 262.8,385.0 270.7,374.1 278.6,365.3 286.5,358.4 294.4,353.0 302.3,348.6 310.2,345.2 318.1,342.5 326.0,340.3 333.9,339.6 341.8,339.2 349.7,339.0 357.6,339.1 365.5,339.4 373.4,339.8 381.3,340.3 389.2,340.9 397.1,341.6 405.0,342.3 412.9,343.1 420.8,343.9 428.7,344.8 436.6,345.6 444.5,346.5 452.4,347.4 460.3,348.3 468.2,349.2 476.1,350.1 484.0,351.1 491.9,352.0 499.8,352.9 507.7,353.9 515.6,354.8 523.5,355.7 531.4,356.7 539.3,357.6 547.2,358.6 555.1,359.5 563.0,360.4 570.9,361.4 578.8,362.3 586.7,363.3 594.6,364.2 602.5,365.2 610.4,366.1 618.3,367.1 626.2,368.0"/>
<polyline stroke="#bf00bf" points="2.0,548.0 9.9,548.0 17.8,548.0 25.7,548.0 33.6,548.0 41.5,548.0 49.4,548.0 57.3,548.0 65.2,548.0 73.1,548.0 81.0,548.0 88.9,548.0 96.8,548.0 104.7,548.0 112.6,548.0 120.5,548.0 128.4,548.0 136.3,548.0 144.2,548.0 152.1,548.0 160.0,548.0 167.9,548.0 175.8,548.0 183.7,548.0 191.6,547.8 199.5,546.7 207.4,541.4 215.4,523.7 223.3,494.5 231.2,465.4 239.1,441.3 247.0,422.0 254.9,406.7 262.8,394.5 270.7,384.9 278.6,377.3 286.5,371.2 294.4,366.4 302.3,362.6 310.2,359.6 318.1,357.2 326.0,355.3 333.9,354.7 341.8,354.4 349.7,354.4 357.6,354.5 365.5,354.8 373.4,355.2 381.3,355.7 389.2,356.3 397.1,357.0 405.0,357.7 412.9,358.4 420.8,359.2 428.7,360.0 436.6,360.8 444.5,361.7 452.4,362.5 460.3,363.4 468.2,364.2 476.1,365.1 484.0,366.0 491.9,366.9 499.8,367.8 507.7,368.6 515.6,369.5 523.5,370.4 531.4,371.3 539.3,372.2 547.2,373.1 555.1,374.0 563.0,374.9 570.9,375.8 578.8,376.6 586.7,377.5 594.6,378.4 602.5,379.3 610.4,380.2 618.3,381.1 626.2,382.0"/>
<polyline stroke="#bfbf00" points="2.0,555.0 9.9,555.0 17.8,555.0 25.7,555.0 33.6,555.0 41.5,555.0 49.4,555.0 57.3,555.0 65.2,555.0 73.1,555.0 81.0,555.0 88.9,555.0 96.8,555.0 104.7,555.0 112.6,555.0 120.5,555.0 128.4,555.0 136.3,555.0 144.2,555.0 152.1,555.0 160.0,555.0 167.9,555.0 175.8,555.0 183.7,555.0 191.6,554.8 199.5,553.7 207.4,548.6 215.4,531.6 223.3,503.3 231.2,475.3 239.1,452.0 247.0,433.4 254.9,418.6 262.8,406.9 270.7,397.6 278.6,390.2 286.5,384.4 294.4,379.7 302.3,376.1 310.2,373.2 318.1,370.8 326.0,369.1 333.9,368.2 341.8,367.7 349.7,367.3 357.6,367.2 365.5,367.3 373.4,367.4 381.3,367.7 389.2,368.0 397.1,368.3 405.0,368.8 412.9,369.2 420.8,369.7 428.7,370.2 436.6,370.8 444.5,371.3 452.4,371.9 460.3,372.4 468.2,373.0 476.1,373.6 484.0,374.2 491.9,374.8 499.8,375.4 507.7,376.0 515.6,376.6 523.5,377.2 531.4,377.8 539.3,378.4 547.2,379.0 555.1,379.6 563.0,380.2 570.9,380.8 578.8,381.4 586.7,382.0 594.6,382.6 602.5,383.2 610.4,383.8 618.3,384.4 626.2,385.0"/>
<polyline stroke="#008000" points="2.0,550.0 9.9,550.0 17.8,550.0 25.7,550.0 33.6,550.0 41.5,550.0 49.4,550.0 57.3,550.0 65.2,550.0 73.1,550.0 81.0,550.0 88.9,550.0 96.8,550.0 104.7,550.0 112.6,550.0 120.5,550.0 128.4,550.0 136.3,550.0 144.2,550.0 152.1,550.0 160.0,550.0 167.9,550.0 175.8,550.0 183.7,550.0 191.6,549.8 199.5,548.9 207.4,544.3 215.4,529.1 223.3,504.0 231.2,479.0 239.1,458.2 247.0,441.6 254.9,428.5 262.8,418.0 270.7,409.7 278.6,403.2 286.5,397.9 294.4,393.8 302.3,390.5 310.2,387.9 318.1,385.9 326.0,384.3 333.9,383.5 341.8,383.0 349.7,382.7 357.6,382.6 365.5,382.6 373.4,382.7 381.3,382.9 389.2,383.2 397.1,383.5 405.0,383.9 412.9,384.3 420.8,384.7 428.7,385.2 436.6,385.6 444.5,386.1 452.4,386.6 460.3,387.1 468.2,387.6 476.1,388.1 484.0,388.6 491.9,389.1 499.8,389.6 507.7,390.1 515.6,390.7 523.5,391.2 531.4,391.7 539.3,392.2 547.2,392.8 555.1,393.3 563.0,393.8 570.9,394.3 578.8,394.9 586.7,395.4 594.6,395.9 602.5,396.4 610.4,397.0 618.3,397.5 626.2,398.0"/>
<polyline stroke="#008000" points="2.0,555.0 9.9,555.0 17.8,555.0 25.7,555.0 33.6,555.0 41.5,555.0 49.4,555.0 57.3,555.0 65.2,555.0 73.1,555.0 81.0,555.0 88.9,555.0 96.8,555.0 104.7,555.0 112.6,555.0 120.5,555.0 128.4,555.0 136.3,555.0 144.2,555.0 152.1,555.0 160.0,555.0 167.9,555.0 175.8,555.0 183.7,555.0 191.6,554.8 199.5,553.9 207.4,549.4 215.4,534.4 223.3,509.5 231.2,484.8 239.1,464.3 247.0,447.9 254.9,434.9 262.8,424.6 270.7,416.4 278.6,409.9 286.5,404.7 294.4,400.6 302.3,397.4 310.2,394.8 318.1,392.8 326.0,391.2 333.9,390.5 341.8,390.0 349.7,389.7 357.6,389.6 365.5,389.6 373.4,389.7 381.3,389.9 389.2,390.2 397.1,390.5 405.0,390.9 412.9,391.3 420.8,391.7 428.7,392.2 436.6,392.6 444.5,393.1 452.4,393.6 460.3,394.1 468.2,394.6 476.1,395.1 484.0,395.6 491.9,396.1 499.8,396.6 507.7,397.1 515.6,397.7 523.5,398.2 531.4,398.7 539.3,399.2 547.2,399.8 555.1,400.3 563.0,400.8 570.9,401.3 578.8,401.9 586.7,402.4 594.6,402.9 602.5,403.4 610.4,404.0 618.3,404.5 626.2,405.0"/>
<polyline stroke="#0000ff" points="2.0,565.0 9.9,565.0 17.8,565.0 25.7,565.0 33.6,565.0 41.5,565.0 49.4,565.0 57.3,565.0 65.2,565.0 73.1,565.0 81.0,565.0 88.9,565.0 96.8,565.0 104.7,565.0 112.6,565.0 120.5,565.0 128.4,565.0 136.3,565.0 144.2,565.0 152.1,565.0 160.0,565.0 167.9,565.0 175.8,565.0 183.7,565.0 191.6,564.8 199.5,563.9 207.4,559.4 215.4,544.4 223.3,519.5 231.2,494.8 239.1,474.3 247.0,457.9 254.9,444.9 262.8,434.6 270.7,426.4 278.6,419.9 286.5,414.7 294.4,410.6 302.3,407.4 310.2,404.8 318.1,402.8 326.0,401.2 333.9,400.5 341.8,400.1 349.7,399.9 357.6,399.9 365.5,400.0 373.4,400.2 381.3,400.5 389.2,400.8 397.1,401.2 405.0,401.7 412.9,402.2 420.8,402.7 428.7,403.2 436.6,403.7 444.5,404.3 452.4,404.9 460.3,405.4 468.2,406.0 476.1,406.6 484.0,407.2 491.9,407.8 499.8,408.4 507.7,409.0 515.6,409.6 523.5,410.2 531.4,410.8 539.3,411.4 547.2,412.0 555.1,412.6 563.0,413.2 570.9,413.8 578.8,414.4 586.7,415.0 594.6,415.6 602.5,416.2 610.4,416.8 618.3,417.4 626.2,418.0"/>
<polyline stroke="#0000ff" points="2.0,560.0 9.9,560.0 17.8,560.0 25.7,560.0 33.6,560.0 41.5,560.0 49.4,560.0 57.3,560.0 65.2,560.0 73.1,560.0 81.0,560.0 88.9,560.0 96.8,560.0 104.7,560.0 112.6,560.0 120.5,560.0 128.4,560.0 136.3,560.0 144.2,560.0 152.1,560.0 160.0,560.0 167.9,560.0 175.8,560.0 183.7,560.0 191.6,559.8 199.5,559.0 207.4,554.8 215.4,540.8 223.3,517.7 231.2,494.8 239.1,475.7 247.0,460.5 254.9,448.4 262.8,438.8 270.7,431.1 278.6,425.1 286.5,420.3 294.4,416.5 302.3,413.5 310.2,411.1 318.1,409.2 326.0,407.8 333.9,407.6 341.8,407.6 349.7,407.8 357.6,408.1 365.5,408.6 373.4,409.2 381.3,409.8 389.2,410.5 397.1,411.3 405.0,412.1 412.9,412.9 420.8,413.8 428.7,414.6 436.6,415.5 444.5,416.4 452.4,417.3 460.3,418.2 468.2,419.2 476.1,420.1 484.0,421.0 491.9,422.0 499.8,422.9 507.7,423.8 515.6,424.8 523.5,425.7 531.4,426.7 539.3,427.6 547.2,428.6 555.1,429.5 563.0,430.4 570.9,431.4 578.8,432.3 586.7,433.3 594.6,434.2 602.5,435.2 610.4,436.1 618.3,437.1 626.2,438.0"/>
<polyline stroke="#bfbf00" points="2.0,560.0 9.9,560.0 17.8,560.0 25.7,560.0 33.6,560.0 41.5,560.0 49.4,560.0 57.3,560.0 65.2,560.0 73.1,560.0 81.0,560.0 88.9,560.0 96.8,560.0 104.7,560.0 112.6,560.0 120.5,560.0 128.4,560.0 136.3,560.0 144.2,560.0 152.1,560.0 160.0,560.0 167.9,560.0 175.8,560.0 183.7,560.0 191.6,559.9 199.5,559.2 207.4,556.0 215.4,545.2 223.3,527.4 231.2,509.6 239.1,494.9 247.0,483.1 254.9,473.8 262.8,466.4 270.7,460.5 278.6,455.8 286.5,452.1 294.4,449.2 302.3,446.9 310.2,445.1 318.1,443.6 326.0,442.5 333.9,442.1 341.8,441.9 349.7,441.8 357.6,441.9 365.5,442.1 373.4,442.3 381.3,442.6 389.2,442.9 397.1,443.3 405.0,443.7 412.9,444.2 420.8,444.6 428.7,445.1 436.6,445.6 444.5,446.1 452.4,446.5 460.3,447.1 468.2,447.6 476.1,448.1 484.0,448.6 491.9,449.1 499.8,449.6 507.7,450.1 515.6,450.7 523.5,451.2 531.4,451.7 539.3,452.2 547.2,452.8 555.1,453.3 563.0,453.8 570.9,454.3 578.8,454.9 586.7,455.4 594.6,455.9 602.5,456.4 610.4,457.0 618.3,457.5 626.2,458.0"/>
<polyline stroke="#bfbf00" points="2.0,568.0 9.9,568.0 17.8,568.0 25.7,568.0 33.6,568.0 41.5,568.0 49.4,568.0 57.3,568.0 65.2,568.0 73.1,568.0 81.0,568.0 88.9,568.0 96.8,568.0 104.7,568.0 112.6,568.0 120.5,568.0 128.4,568.0 136.3,568.0 144.2,568.0 152.1,568.0 160.0,568.0 167.9,568.0 175.8,568.0 183.7,568.0 191.6,567.9 199.5,567.2 207.4,564.1 215.4,553.8 223.3,536.7 231.2,519.7 239.1,505.6 247.0,494.3 254.9,485.3 262.8,478.2 270.7,472.6 278.6,468.1 286.5,464.6 294.4,461.8 302.3,459.5 310.2,457.8 318.1,456.4 326.0,455.3 333.9,455.2 341.8,455.3 349.7,455.5 357.6,455.9 365.5,456.3 373.4,456.8 381.3,457.4 389.2,458.0 397.1,458.7 405.0,459.3 412.9,460.1 420.8,460.8 428.7,461.5 436.6,462.2 444.5,463.0 452.4,463.8 460.3,464.5 468.2,465.3 476.1,466.1 484.0,466.9 491.9,467.6 499.8,468.4 507.7,469.2 515.6,470.0 523.5,470.8 531.4,471.6 539.3,472.3 547.2,473.1 555.1,473.9 563.0,474.7 570.9,475.5 578.8,476.3 586.7,477.1 594.6,477.8 602.5,478.6 610.4,479.4 618.3,480.2 626.2,481.0"/>
<polyline stroke="#0000ff" points="2.0,575.0 9.9,575.0 17.8,575.0 25.7,575.0 33.6,575.0 41.5,575.0 49.4,575.0 57.3,575.0 65.2,575.0 73.1,575.0 81.0,575.0 88.9,575.0 96.8,575.0 104.7,575.0 112.6,575.0 120.5,575.0 128.4,575.0 136.3,575.0 144.2,575.0 152.1,575.0 160.0,575.0 167.9,575.0 175.8,575.0 183.7,575.0 191.6,574.9 199.5,574.3 207.4,571.2 215.4,561.2 223.3,544.5 231.2,527.9 239.1,514.2 247.0,503.2 254.9,494.4 262.8,487.5 270.7,482.0 278.6,477.7 286.5,474.2 294.4,471.5 302.3,469.3 310.2,467.6 318.1,466.2 326.0,465.2 333.9,464.6 341.8,464.2 349.7,464.0 357.6,463.8 365.5,463.8 373.4,463.8 381.3,463.9 389.2,464.0 397.1,464.1 405.0,464.3 412.9,464.5 420.8,464.7 428.7,465.0 436.6,465.2 444.5,465.5 452.4,465.7 460.3,466.0 468.2,466.3 476.1,466.6 484.0,466.8 491.9,467.1 499.8,467.4 507.7,467.7 515.6,468.0 523.5,468.3 531.4,468.5 539.3,468.8 547.2,469.1 555.1,469.4 563.0,469.7 570.9,470.0 578.8,470.3 586.7,470.6 594.6,470.8 602.5,471.1 610.4,471.4 618.3,471.7 626.2,472.0"/>
<polyline stroke="#0000ff" points="2.0,572.0 9.9,572.0 17.8,572.0 25.7,572.0 33.6,572.0 41.5,572.0 49.4,572.0 57.3,572.0 65.2,572.0 73.1,572.0 81.0,572.0 88.9,572.0 96.8,572.0 104.7,572.0 112.6,572.0 120.5,572.0 128.4,572.0 136.3,572.0 144.2,572.0 152.1,572.0 160.0,572.0 167.9,572.0 175.8,572.0 183.7,572.0 191.6,571.9 199.5,571.4 207.4,568.9 215.4,560.6 223.3,546.8 231.2,533.2 239.1,521.9 247.0,512.8 254.9,505.6 262.8,499.9 270.7,495.3 278.6,491.7 286.5,488.9 294.4,486.6 302.3,484.9 310.2,483.4 318.1,482.3 326.0,481.4 333.9,481.2 341.8,481.1 349.7,481.1 357.6,481.2 365.5,481.3 373.4,481.6 381.3,481.8 389.2,482.1 397.1,482.5 405.0,482.8 412.9,483.2 420.8,483.6 428.7,484.0 436.6,484.4 444.5,484.8 452.4,485.3 460.3,485.7 468.2,486.1 476.1,486.6 484.0,487.0 491.9,487.4 499.8,487.9 507.7,488.3 515.6,488.8 523.5,489.2 531.4,489.6 539.3,490.1 547.2,490.5 555.1,491.0 563.0,491.4 570.9,491.9 578.8,492.3 586.7,492.8 594.6,493.2 602.5,493.7 610.4,494.1 618.3,494.6 626.2,495.0"/>
<polyline stroke="#ff0000" points="2.0,540.0 9.9,540.0 17.8,540.0 25.7,540.0 33.6,540.0 41.5,540.0 49.4,540.0 57.3,540.0 65.2,540.0 73.1,540.0 81.0,540.0 88.9,540.0 96.8,540.0 104.7,540.0 112.6,540.0 120.5,540.0 128.4,540.0 136.3,540.0 144.2,540.0 152.1,540.0 160.0,540.0 167.9,540.0 175.8,540.0 183.7,540.0 191.6,539.7 199.5,538.4 207.4,532.1 215.4,510.9 223.3,475.8 231.2,440.9 239.1,412.0 247.0,388.8 254.9,370.4 262.8,355.8 270.7,344.3 278.6,335.1 286.5,327.8 294.4,322.1 302.3,317.5 310.2,313.9 318.1,311.0 326.0,308.8 333.9,308.5 341.8,308.5 349.7,308.8 357.6,309.3 365.5,310.1 373.4,310.9 381.3,311.9 389.2,313.0 397.1,314.2 405.0,315.4 412.9,316.7 420.8,318.0 428.7,319.3 436.6,320.7 444.5,322.0 452.4,323.4 460.3,324.8 468.2,326.2 476.1,327.7 484.0,329.1 491.9,330.5 499.8,331.9 507.7,333.4 515.6,334.8 523.5,336.2 531.4,337.7 539.3,339.1 547.2,340.6 555.1,342.0 563.0,343.4 570.9,344.9 578.8,346.3 586.7,347.8 594.6,349.2 602.5,350.7 610.4,352.1 618.3,353.6 626.2,355.0"/>
</g>
<line x1="376.0" y1="675.8" x2="676.9" y2="675.8" stroke="#999" stroke-width="1.8"/>
<line x1="376.0" y1="935.0" x2="676.9" y2="935.0" stroke="#606060" stroke-width="1.8"/>
<line x1="376.9" y1="675.8" x2="376.9" y2="935.0" stroke="#999" stroke-width="1.8"/>
<line x1="676.0" y1="675.8" x2="676.0" y2="935.0" stroke="#999" stroke-width="1.8"/>
<g font-family="Liberation Sans" fill="#404048"><text x="371.2" y="939.0" font-size="11" textLength="3.9" lengthAdjust="spacingAndGlyphs">0</text><text x="361.4" y="910.2" font-size="11" textLength="13.7" lengthAdjust="spacingAndGlyphs">0.05</text><text x="365.3" y="881.4" font-size="11" textLength="9.8" lengthAdjust="spacingAndGlyphs">0.1</text><text x="361.4" y="852.6" font-size="11" textLength="13.7" lengthAdjust="spacingAndGlyphs">0.15</text><text x="365.3" y="823.8" font-size="11" textLength="9.8" lengthAdjust="spacingAndGlyphs">0.2</text><text x="361.4" y="795.0" font-size="11" textLength="13.7" lengthAdjust="spacingAndGlyphs">0.25</text><text x="365.3" y="766.2" font-size="11" textLength="9.8" lengthAdjust="spacingAndGlyphs">0.3</text><text x="361.4" y="737.4" font-size="11" textLength="13.7" lengthAdjust="spacingAndGlyphs">0.35</text><text x="365.3" y="708.6" font-size="11" textLength="9.8" lengthAdjust="spacingAndGlyphs">0.4</text><text x="361.4" y="679.8" font-size="11" textLength="13.7" lengthAdjust="spacingAndGlyphs">0.45</text><text x="374.3" y="948.6" font-size="11" textLength="3.6" lengthAdjust="spacingAndGlyphs">0</text><text x="422.3" y="948.6" font-size="11" textLength="7.3" lengthAdjust="spacingAndGlyphs">20</text><text x="472.1" y="948.6" font-size="11" textLength="7.3" lengthAdjust="spacingAndGlyphs">40</text><text x="522.0" y="948.6" font-size="11" textLength="7.3" lengthAdjust="spacingAndGlyphs">60</text><text x="571.9" y="948.6" font-size="11" textLength="7.3" lengthAdjust="spacingAndGlyphs">80</text><text x="619.9" y="948.6" font-size="11" textLength="10.9" lengthAdjust="spacingAndGlyphs">100</text><text x="669.7" y="948.6" font-size="11" textLength="10.9" lengthAdjust="spacingAndGlyphs">120</text></g>
<g fill="#000">
<text x="136.5" y="321.5" font-family="Liberation Sans" font-weight="bold" font-size="16" textLength="137" lengthAdjust="spacingAndGlyphs">Number of images</text>
<text x="436" y="313.1" font-family="Liberation Sans" font-weight="bold" font-size="15.5" textLength="131.7" lengthAdjust="spacingAndGlyphs">Number of images</text>
<text x="119.9" y="640.1" font-family="Liberation Sans" font-weight="bold" font-size="16" textLength="136.8" lengthAdjust="spacingAndGlyphs">Number of images</text>
<text x="460.1" y="641.7" font-family="Liberation Sans" font-weight="bold" font-size="15.5" textLength="132.3" lengthAdjust="spacingAndGlyphs">Number of images</text>
<text x="110.5" y="974.3" font-family="Liberation Sans" font-weight="bold" font-size="16" textLength="136.5" lengthAdjust="spacingAndGlyphs">Number of images</text>
<text x="460.4" y="968.5" font-family="Liberation Sans" font-weight="bold" font-size="15.5" textLength="131.6" lengthAdjust="spacingAndGlyphs">Number of images</text>
<text transform="translate(21.3,184.5) rotate(-90)" font-family="Liberation Sans" font-weight="bold" font-size="17" textLength="46" lengthAdjust="spacingAndGlyphs">Mean</text>
<text transform="translate(353.6,177.1) rotate(-90)" font-family="Liberation Sans" font-weight="bold" font-size="16" textLength="42.5" lengthAdjust="spacingAndGlyphs">Mean</text>
<text transform="translate(14.2,562.8) rotate(-90)" font-family="Liberation Sans" font-weight="bold" font-size="17" textLength="155" lengthAdjust="spacingAndGlyphs">Standard deviation</text>
<text transform="translate(351.3,559.8) rotate(-90)" font-family="Liberation Sans" font-weight="bold" font-size="16" textLength="143.5" lengthAdjust="spacingAndGlyphs">Standard deviation</text>
<text transform="translate(23.7,905.1) rotate(-90)" font-family="Liberation Sans" font-weight="bold" font-size="17" textLength="170.7" lengthAdjust="spacingAndGlyphs">Coefficient variation</text>
<text transform="translate(357.5,911) rotate(-90)" font-family="Liberation Sans" font-weight="bold" font-size="16" textLength="160" lengthAdjust="spacingAndGlyphs">Coefficient variation</text>
<text x="176.3" y="1006" font-family="Liberation Sans" font-weight="bold" font-size="16" textLength="20" lengthAdjust="spacingAndGlyphs">(a)</text>
<text x="512.4" y="1001" font-family="Liberation Sans" font-weight="bold" font-size="16" textLength="21.8" lengthAdjust="spacingAndGlyphs">(b)</text>
</g>
</svg>
</body></html>
